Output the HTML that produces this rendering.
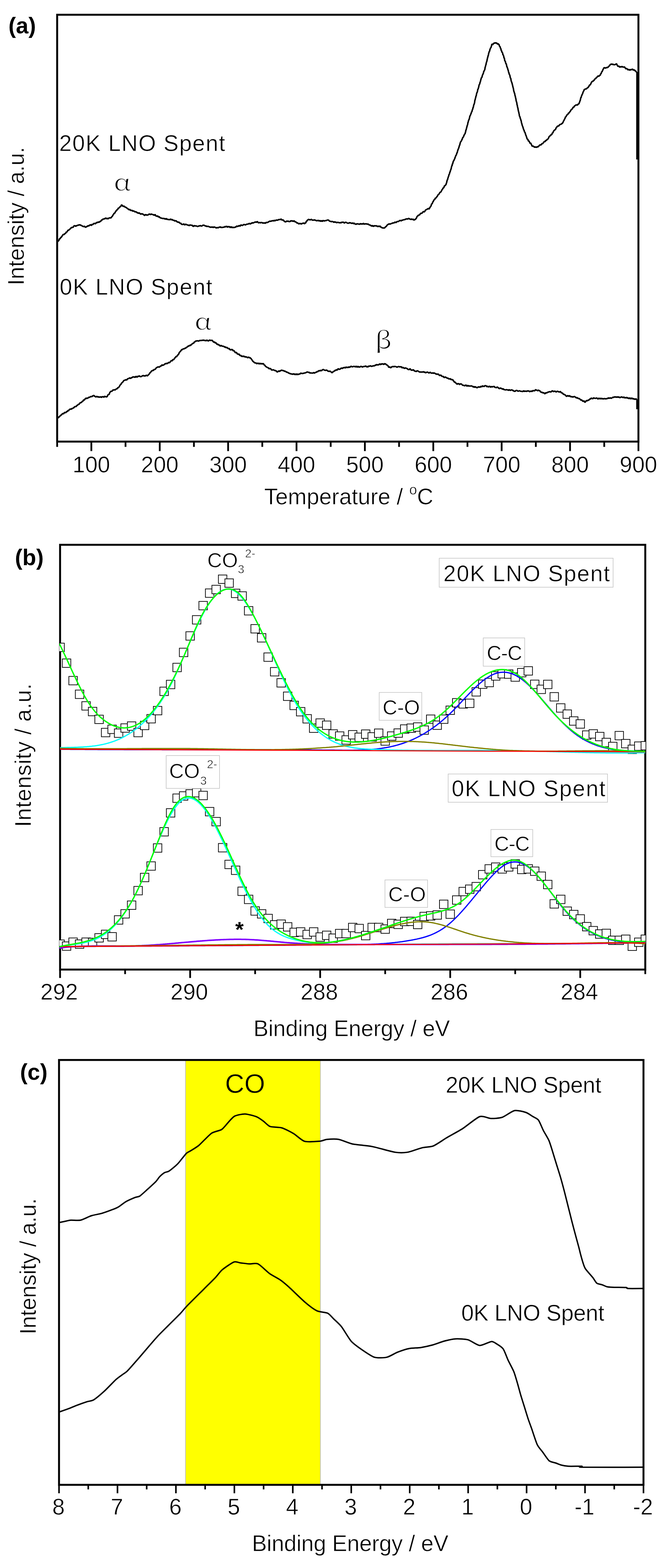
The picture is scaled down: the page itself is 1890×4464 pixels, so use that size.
<!DOCTYPE html>
<html><head><meta charset="utf-8"><title>Figure</title>
<style>html,body{margin:0;padding:0;background:#fff;}svg{display:block;}text{stroke:#fff;stroke-width:0.9px;}text[font-weight=bold]{stroke:none;}</style>
</head><body>
<svg width="1890" height="4464" viewBox="0 0 1890 4464" font-family="'Liberation Sans', Arial, sans-serif" fill="#000">
<rect width="1890" height="4464" fill="#fff"/>
<rect x="162.7" y="42" width="1654.5" height="1215.2" fill="none" stroke="#000" stroke-width="5.5"/>
<path d="M162.7 1257.2 V1272.2 M260 1257.2 V1284.2 M357.3 1257.2 V1272.2 M454.7 1257.2 V1284.2 M552 1257.2 V1272.2 M649.3 1257.2 V1284.2 M746.6 1257.2 V1272.2 M844 1257.2 V1284.2 M941.3 1257.2 V1272.2 M1038.6 1257.2 V1284.2 M1135.9 1257.2 V1272.2 M1233.3 1257.2 V1284.2 M1330.6 1257.2 V1272.2 M1427.9 1257.2 V1284.2 M1525.2 1257.2 V1272.2 M1622.6 1257.2 V1284.2 M1719.9 1257.2 V1272.2 M1817.2 1257.2 V1284.2" stroke="#000" stroke-width="5" fill="none"/>
<text x="260" y="1345" font-size="64" text-anchor="middle">100</text>
<text x="454.7" y="1345" font-size="64" text-anchor="middle">200</text>
<text x="649.3" y="1345" font-size="64" text-anchor="middle">300</text>
<text x="844" y="1345" font-size="64" text-anchor="middle">400</text>
<text x="1038.6" y="1345" font-size="64" text-anchor="middle">500</text>
<text x="1233.3" y="1345" font-size="64" text-anchor="middle">600</text>
<text x="1427.9" y="1345" font-size="64" text-anchor="middle">700</text>
<text x="1622.6" y="1345" font-size="64" text-anchor="middle">800</text>
<text x="1817.2" y="1345" font-size="64" text-anchor="middle">900</text>
<g fill="none" stroke="#000" stroke-width="4.2" stroke-linejoin="bevel">
<path d="M162.7 687.1 L164.6 688.1 L165.7 686.1 L166.7 685.4 L167.8 684.1 L168.8 680.8 L169.9 679.2 L170.9 680.6 L172 677.2 L173 675.7 L174.1 676.9 L175.1 673.7 L176.2 673.6 L177.2 670.9 L178.3 670.1 L179.8 667.3 L181.4 667.8 L182.9 667.4 L184.4 665.1 L186 664.7 L187.5 663.3 L188.7 660 L190 661.1 L191.2 659.3 L192.5 657 L193.7 654.9 L195 656.5 L196.2 653.9 L197.5 653.5 L198.7 652.8 L200 651 L201.2 650.4 L202.7 647.9 L204.3 648.5 L205.8 646.5 L207.3 647.4 L208.9 646.5 L210.4 643 L212.1 642.7 L213.7 642.6 L215.4 644.7 L217.1 642.5 L218.7 642.7 L220.4 641.2 L222 641.5 L223.7 640.7 L225.4 640.1 L227 640.5 L228.7 640.1 L230.4 641.9 L232.1 641.9 L233.9 643.5 L235.6 644 L237.3 645.2 L239.1 644.8 L240.8 643.8 L242.5 646.9 L244.2 646.7 L245.8 646 L247.5 644.3 L249.2 644.3 L250.8 642 L252.5 643.6 L254.1 642.2 L255.8 640.7 L257.5 639.4 L259.1 641.5 L260.8 641.5 L262.5 637.8 L264.1 639.6 L265.8 637.6 L267.5 636.1 L269.2 636 L270.8 637 L272.5 636.7 L274.2 633.2 L275.9 634.5 L277.5 632 L279.2 633.6 L280.7 631.5 L282.2 632.5 L283.8 632 L285.3 629.6 L286.8 630.4 L288.4 627.2 L289.9 625.6 L291.4 626.5 L292.9 623.7 L294.4 623.5 L296 623.3 L297.5 623.2 L299.3 621.4 L301.2 620.7 L303 623.2 L304.8 621 L306.6 623 L308.5 622.5 L310.3 620.4 L312.1 620.4 L314 620.3 L315.8 620.5 L316.8 619 L317.8 617.5 L318.9 616.3 L319.9 616 L320.9 613.2 L321.9 611.6 L323 611.2 L324 608.2 L325 607 L326.1 608 L327.3 605 L328.4 603.8 L329.6 600.6 L330.7 600.6 L331.8 599.8 L333 596.5 L334.1 597.1 L335.3 595.8 L336.4 592.5 L337.7 593.1 L339 591.3 L340.3 590.7 L341.7 588.2 L343 588.1 L344.3 586.9 L345.6 583.2 L347.3 583.9 L349.1 586.5 L350.8 588 L352.5 586.2 L354 587.9 L355.5 589.4 L357.1 589.5 L358.6 590.6 L360.1 591.5 L361.6 592.7 L363.2 594.5 L364.7 594.5 L366.2 595.8 L367.9 597.8 L369.5 595.8 L371.2 598.3 L372.9 599.5 L374.6 598.7 L376.2 599 L377.9 601.6 L379.6 600.3 L381.3 600.8 L382.9 602.3 L384.6 603.8 L386.2 602.3 L387.8 603.6 L389.4 604.2 L391 606.4 L392.7 605.6 L394.3 607.6 L395.9 605.8 L397.5 606.9 L399.1 608.5 L400.7 609.8 L402.3 608.9 L403.9 608.7 L405.6 608.8 L407.2 610.8 L408.8 610.2 L410.4 612.8 L412 613.5 L413.8 611 L415.7 611.1 L417.5 612.7 L419.4 611.9 L421.2 612.2 L423 610.4 L424.9 609.4 L426.7 609.8 L428.6 611.2 L430.4 609.2 L432.1 609.9 L433.7 610.6 L435.4 611 L437.1 611.4 L438.7 613.5 L440.4 611.3 L442 611.2 L443.7 614.9 L445.4 615.1 L447 615.8 L448.7 614.4 L450.2 617 L451.8 617.9 L453.3 616.4 L454.8 619.1 L456.4 620.3 L457.9 620.6 L459.4 621 L461 621.2 L462.5 622.3 L464.3 622 L466.2 621.5 L468 623.4 L469.8 622.4 L471.6 624.3 L473.5 621.8 L475.3 624.8 L477.1 624.2 L479 625.1 L480.8 625 L482.5 625.5 L484.1 624.8 L485.8 623.3 L487.4 626.2 L489.1 624.7 L490.7 625.5 L492.4 627.2 L494 627.1 L495.7 627.2 L497.3 629.4 L499 628.7 L500.5 628.5 L502.1 629 L503.6 631.8 L505.2 631.3 L506.7 633.1 L508.2 632.4 L509.8 632.6 L511.3 634.6 L512.9 636.3 L514.4 634.8 L516 637.7 L517.5 638.9 L519.3 638.9 L521 639.3 L522.8 636.9 L524.5 639.3 L526.3 640.5 L528.1 638 L529.8 639.1 L531.6 639.5 L533.4 640.7 L535.1 640.7 L536.9 641.2 L538.6 642.6 L540.4 640.3 L542.2 640.7 L543.9 641.1 L545.7 641.3 L547.4 641.3 L549.2 644.5 L551 644.3 L552.7 641.9 L554.5 643.5 L556.3 643 L558 643.2 L559.8 643.5 L561.5 644.7 L563.3 644.7 L565.1 643.7 L567 642.9 L568.8 643.1 L570.6 642.2 L572.5 643.4 L574.3 643.7 L576.1 642.3 L577.9 641.1 L579.8 641.1 L581.6 641.6 L583.3 642.8 L584.9 643.8 L586.6 642.9 L588.3 644.7 L590 644.6 L591.6 644.3 L593.3 644.6 L595 645.4 L596.7 646.5 L598.3 646 L600 647.4 L601.8 646.7 L603.7 646 L605.5 647.1 L607.3 647.7 L609.1 645.7 L611 647 L612.8 647.1 L614.6 648.7 L616.5 649 L618.3 647.2 L620.1 648.8 L621.8 648.3 L623.6 646.4 L625.3 646.9 L627.1 645.6 L628.9 647.8 L630.6 647.1 L632.4 647.7 L634.2 647.3 L635.9 646.7 L637.7 646.8 L639.4 646.1 L641.2 644.4 L642.9 646.2 L644.7 644.3 L646.4 645 L648.1 647.3 L649.9 644.9 L651.6 645.3 L653.3 645.4 L655.1 648.3 L656.8 646 L658.5 645.7 L660.3 648.6 L662 646.3 L663.7 648.3 L665.4 647.3 L667.1 647.5 L668.8 647.4 L670.5 645.8 L672.2 646.1 L673.8 643.1 L675.5 645.1 L677.2 643.8 L678.9 644.1 L680.6 641.6 L682.3 643.4 L684 643.6 L685.7 640.3 L687.4 640.9 L689.1 641.4 L690.8 642 L692.5 639.8 L694.2 639.3 L695.8 639.2 L697.5 640.2 L699.2 640.3 L700.9 638.8 L702.6 638.4 L704.3 638.2 L706 637.8 L707.7 637.5 L709.4 635.9 L711.1 636.8 L712.8 637.9 L714.5 635.5 L716.2 636.1 L717.8 633.6 L719.5 634.9 L721.2 634.6 L722.9 633.8 L724.6 632.8 L726.3 632.2 L728 632.2 L729.7 633.3 L731.4 631.1 L733.1 631.2 L734.8 633.7 L736.5 634.6 L738.2 633.5 L739.8 633.6 L741.5 634.8 L743.2 633.3 L744.9 633.8 L746.6 633.9 L748.3 635.5 L750 634.9 L751.7 634.2 L753.4 635.3 L755.1 635.8 L756.8 633.1 L758.5 634.1 L760.2 632.7 L761.8 633.7 L763.5 632.4 L765.2 630.9 L766.9 630.3 L768.6 629.2 L770.3 630.4 L772 629.6 L773.8 628.5 L775.5 628.7 L777.2 628.2 L779 629.3 L780.8 626.8 L782.5 629.2 L784.2 627.1 L786 627.1 L787.8 626.2 L789.5 627.1 L791.2 626.6 L793 625.3 L794.8 624.7 L796.5 625.1 L798.2 625.1 L800 623.2 L801.5 625.2 L802.9 626.9 L804.4 626.2 L805.9 626.3 L807.4 627.2 L808.8 629.8 L810.3 630.6 L812 631.7 L813.8 631.5 L815.5 629.6 L817.3 629.6 L819 630 L820.7 629.4 L822.4 630.8 L824.1 630.9 L825.9 630.7 L827.6 628.1 L829.3 629.8 L831 628.3 L832.7 629.1 L834.5 630.5 L836.2 628.7 L837.9 629 L839.6 631.9 L841.1 631 L842.5 632.2 L844 633.9 L845.5 635.2 L847 633.8 L848.4 635.9 L849.9 637.2 L851.9 637.1 L853.8 635.9 L855.8 637 L857.7 638 L859.6 635.9 L861.6 636.2 L863.5 634.9 L865.5 635.7 L867.4 637.3 L868.5 633.9 L869.6 635.1 L870.7 633.7 L871.8 629.5 L872.9 630.9 L874 627.5 L875.1 627.4 L876.2 625.9 L878.2 624.3 L880.1 625.6 L882.1 625.5 L884.1 626 L886 624.2 L888 625.9 L889.8 627.1 L891.6 626.6 L893.5 626.6 L895.3 625.7 L897 627.2 L898.7 626.9 L900.4 628.3 L902.1 628.3 L903.8 628.1 L905.5 627 L907.1 628.7 L908.8 628.9 L910.5 627.5 L912.2 630.1 L913.9 629.5 L915.6 627.8 L917.3 630.8 L919.1 627.8 L921 628.2 L922.8 629.2 L924.6 628.5 L926.5 628 L928.3 628.1 L930.2 627.1 L932 626.4 L933.8 626.5 L935.6 626.7 L937.5 629.4 L939.3 630.1 L941.1 630 L943 631.2 L944.8 630.5 L946.6 630.7 L948.5 631.4 L950.4 633.4 L952.3 630.9 L954.3 632.8 L956.2 632.2 L958.1 634.3 L960 633.2 L961.8 633.1 L963.5 633.4 L965.3 633.9 L967.1 634.7 L968.8 633.3 L970.6 635 L972.4 632.5 L974.1 633 L975.9 632.5 L977.7 632.5 L979.4 634.8 L981.2 634.6 L983 632.8 L984.7 632.8 L986.5 633.6 L988.2 634.9 L989.9 635.4 L991.7 635.4 L993.4 635 L995.1 633.7 L996.8 634.8 L998.5 634.3 L1000.2 635.6 L1002 636 L1003.7 634.9 L1005.4 635.3 L1007.1 637.3 L1008.8 635 L1010.6 637.8 L1012.3 638.3 L1014 638.7 L1015.7 636.8 L1017.4 637.4 L1019.2 637.5 L1020.9 637.7 L1022.6 638.8 L1024.3 637.8 L1026 636.5 L1027.8 638.4 L1029.5 637.1 L1031.2 637.5 L1032.9 638 L1034.6 635.5 L1036.3 638.1 L1038.1 637.8 L1039.8 637.2 L1041.5 637.3 L1043.2 637.6 L1044.9 637.2 L1046.6 638.8 L1048.3 637.7 L1050 639.7 L1051.7 640.7 L1053.3 640.6 L1055 641.5 L1056.7 643.3 L1058.4 643.6 L1060.1 641.5 L1061.8 644.3 L1063.5 644.2 L1065.3 642.3 L1067.2 643.3 L1069 642.9 L1070.8 642.4 L1072.7 643.9 L1074.5 645.3 L1076.3 643.2 L1078.2 645.1 L1080 644.5 L1081.7 643.3 L1083.4 646.6 L1085.1 646.5 L1086.9 648.4 L1088.6 648.5 L1090.3 649.3 L1092 648.8 L1093.4 649.3 L1094.8 648.8 L1096.2 647.5 L1097.6 645.1 L1099 645.2 L1100.5 643.2 L1101.9 641 L1103.3 639.7 L1104.7 638.9 L1106.1 638.3 L1107.5 637.1 L1109.2 637.8 L1110.9 637.9 L1112.7 636.9 L1114.4 636 L1116.1 636.2 L1117.8 634.5 L1119.5 634.5 L1121.2 635 L1123 633.3 L1124.7 632 L1126.4 634 L1128.1 632.8 L1129.8 631.1 L1131.6 630.6 L1133.3 630.6 L1135 630.3 L1136.7 628.6 L1138.4 627.5 L1140.2 627.8 L1141.9 629.3 L1143.6 626.7 L1145.3 627.4 L1147 626.1 L1148.8 625.7 L1150.5 625.2 L1152.2 625.5 L1153.9 624.3 L1155.6 623.4 L1157.3 623.3 L1159.1 623.1 L1160.8 623.8 L1162.5 621.9 L1164.3 622 L1166 623.7 L1167.8 623.8 L1169.5 625.1 L1171.3 623.1 L1173 624.6 L1174.8 624.8 L1176.5 623.8 L1178.3 627.3 L1180 625 L1181.8 624.8 L1182.8 624.5 L1183.8 621.9 L1184.9 621.9 L1185.9 619.3 L1186.9 617 L1188 615.2 L1189 615.9 L1190 612.7 L1191.5 613.5 L1193 611.4 L1194.5 612 L1196 608.8 L1197.5 607.6 L1199 606.7 L1200.5 607.6 L1202 605.9 L1203.5 604 L1205 602.1 L1206.5 603.1 L1208 603.2 L1209.6 601 L1211.2 598.1 L1212.7 597.2 L1214.2 596.5 L1215.8 595.9 L1217.3 594.5 L1218.9 593.6 L1220.5 594.7 L1222 594.7 L1222.9 590.8 L1223.7 591.9 L1224.6 588.7 L1225.5 588.3 L1226.3 587.2 L1227.2 585.7 L1228.1 581.1 L1228.9 580.5 L1229.8 580.1 L1230.6 579.7 L1231.5 575.3 L1232.4 574.5 L1233.2 574.8 L1234.1 570.8 L1235 570.2 L1235.8 568.5 L1236.7 568.2 L1237.8 567.7 L1239 563.7 L1240.1 564.3 L1241.3 562.9 L1242.4 561.9 L1243.6 559.5 L1244.7 559.4 L1245.8 556.1 L1247 554.9 L1248.1 552.9 L1249.3 553.4 L1250.4 551 L1251.6 548.9 L1252.7 547.2 L1253.9 547.7 L1255 546 L1256 544.8 L1257 542.3 L1257.9 541.2 L1258.9 538.6 L1259.9 539 L1260.9 535.2 L1261.9 535.2 L1262.8 534.7 L1263.8 533 L1264.8 529.6 L1265.8 528.6 L1266.8 529.2 L1267.7 527 L1268.7 526.4 L1269.7 524.9 L1270.2 521.8 L1270.8 521.6 L1271.4 519.4 L1271.9 516.4 L1272.5 514.9 L1273 512.2 L1273.5 511.7 L1274.1 511.9 L1274.7 507.4 L1275.2 507.3 L1275.8 504.1 L1276.3 502.4 L1276.9 502.7 L1277.4 499.6 L1278 497.3 L1278.5 496 L1279 496 L1279.6 494.2 L1280.2 490.6 L1280.7 489.7 L1281.2 490.6 L1281.7 486.4 L1282.2 485.9 L1282.7 483.8 L1283.2 483.4 L1283.7 481.2 L1284.2 480.2 L1284.7 477.7 L1285.2 474.9 L1285.8 473.2 L1286.3 471.3 L1286.8 472.2 L1287.3 468.1 L1287.8 466.2 L1288.3 467.8 L1288.8 463.5 L1289.3 464.3 L1289.8 459.9 L1290.5 459.6 L1291.2 457.1 L1291.9 457.6 L1292.5 455.3 L1293.2 453.8 L1293.9 452.6 L1294.6 451.3 L1295.3 447.9 L1296 447.2 L1296.7 445.1 L1297.4 442.3 L1298 443.2 L1298.7 440.7 L1299.4 439.9 L1300.1 436.2 L1300.8 435.7 L1301.3 433.8 L1301.9 433.1 L1302.5 429.2 L1303 428.5 L1303.5 427.3 L1304.1 424.2 L1304.6 424.2 L1305.2 423.2 L1305.8 420.5 L1306.3 419.6 L1306.8 417.8 L1307.4 414.8 L1308 413.6 L1308.5 414.2 L1309 410.3 L1309.6 409 L1310.1 406.1 L1310.7 404.9 L1311.2 403.1 L1311.8 404.1 L1312.6 401.8 L1313.4 400.7 L1314.2 399.5 L1315 396.6 L1315.8 396.1 L1316.6 393.1 L1317.4 391.1 L1318.2 391.3 L1319.1 389.6 L1319.9 388.1 L1320.7 384.9 L1321.5 384.3 L1322.3 381.5 L1323.1 381.9 L1323.9 380 L1324.7 376.3 L1325.2 376.8 L1325.6 372.6 L1326.1 370.6 L1326.5 371 L1327 367.9 L1327.5 367 L1327.9 365.7 L1328.4 362 L1328.8 362.7 L1329.3 359.4 L1329.7 358.3 L1330.2 356.3 L1330.7 355.9 L1331.1 354.3 L1331.6 351 L1332 348.7 L1332.5 347.7 L1333 346.4 L1333.4 343.6 L1333.9 342.2 L1334.3 342.5 L1334.8 340.6 L1335.2 339.9 L1335.7 338.2 L1336.3 336.3 L1336.9 332.9 L1337.5 330.6 L1338.1 329.4 L1338.8 328.3 L1339.4 326.9 L1340 325.3 L1340.6 323.1 L1341.2 323.1 L1341.8 319.6 L1342.4 318.6 L1343 318.4 L1343.6 316.5 L1344.3 313.1 L1344.9 311.3 L1345.5 311.6 L1346.1 307.3 L1346.7 306 L1347.1 305.7 L1347.5 304 L1348 301.1 L1348.4 299 L1348.8 297.8 L1349.2 298.1 L1349.7 295.3 L1350.1 295.4 L1350.5 293 L1350.9 292 L1351.4 287.1 L1351.8 285.9 L1352.2 283.6 L1352.6 283.4 L1353 281.4 L1353.5 278.7 L1353.9 278.7 L1354.3 275.5 L1354.7 274.5 L1355.2 272.6 L1355.6 272.8 L1356 269.8 L1356.4 267.6 L1356.9 265.1 L1357.3 264.8 L1357.7 263.7 L1358.2 262.2 L1358.7 261.4 L1359.2 259.4 L1359.7 255.8 L1360.2 253.7 L1360.7 254.2 L1361.2 252.6 L1361.7 250 L1362.2 249.5 L1362.7 246.8 L1363.2 244.3 L1363.7 242.2 L1364.2 240 L1364.7 240.5 L1365.2 239.7 L1365.7 238.1 L1366.2 234.9 L1366.7 233.9 L1367.2 233.1 L1367.7 231.1 L1368.2 228.7 L1368.7 226.4 L1369.3 225.1 L1369.9 222.3 L1370.5 220.7 L1371.1 220.8 L1371.8 220.2 L1372.4 217.1 L1373 215 L1373.6 213.1 L1374.2 211.8 L1374.8 211.4 L1375.4 208.6 L1376 208.7 L1376.6 204.3 L1377.3 203.2 L1377.9 202.3 L1378.5 200.3 L1379.1 200.1 L1379.7 198.4 L1380.1 197.1 L1380.5 194.3 L1381 190.6 L1381.4 190.8 L1381.8 189 L1382.2 187.1 L1382.7 184.7 L1383.1 184.5 L1383.5 183.5 L1383.9 179 L1384.4 179.3 L1384.8 176.6 L1385.2 175.4 L1385.6 175 L1386 173.5 L1386.5 170.7 L1386.9 167.5 L1387.3 168.3 L1387.7 164.1 L1388.2 163.1 L1388.6 162.9 L1389 159.4 L1389.4 157.6 L1389.9 158.2 L1390.3 156.5 L1390.7 152.7 L1391.3 151.2 L1391.9 149.1 L1392.5 146.9 L1393.1 145.6 L1393.7 146.4 L1394.3 141.6 L1394.9 140.4 L1395.6 138.6 L1396.2 136.5 L1396.8 136.3 L1397.4 135.4 L1398 134 L1398.6 131.6 L1399.2 130.5 L1399.8 126 L1401.3 126 L1402.9 127.4 L1404.4 123.5 L1405.9 123.2 L1407.5 123.1 L1409 121.4 L1410.8 123 L1412.7 121.9 L1414.5 123.1 L1416.3 126.2 L1418.2 124 L1420 127.2 L1420.6 126.3 L1421.3 130.7 L1421.9 131.2 L1422.6 132.8 L1423.2 132.7 L1423.9 134 L1424.5 138 L1425.2 137.6 L1425.8 139.3 L1426.5 143.1 L1427.1 144.9 L1427.8 143.7 L1428.4 148.4 L1429.1 148.6 L1429.7 149.7 L1430.4 150.3 L1431 152.9 L1431.5 156.6 L1432.1 155.8 L1432.6 156.9 L1433.2 158.6 L1433.7 160.2 L1434.2 162.6 L1434.8 166.1 L1435.3 164.9 L1435.9 166.9 L1436.4 171.1 L1436.9 172.9 L1437.5 174.5 L1438 173.6 L1438.6 175.6 L1439.1 179.3 L1439.7 179.3 L1440.2 181.7 L1440.7 182 L1441.3 182.6 L1441.8 185.4 L1442.4 188.4 L1442.9 190.1 L1443.4 191 L1444 192.3 L1444.5 194.2 L1445.1 195.5 L1445.6 197.4 L1446.1 200.1 L1446.6 199.6 L1447.1 202.6 L1447.6 205.4 L1448.1 206.8 L1448.6 206.2 L1449.1 210.6 L1449.6 211.8 L1450.1 211.2 L1450.6 213.2 L1451.1 214.6 L1451.6 215.8 L1452.1 220.6 L1452.6 220.3 L1453.1 223.6 L1453.6 222.7 L1454.1 224 L1454.6 228.6 L1455.1 230 L1455.6 232.3 L1456.1 233 L1456.6 234.1 L1457 236.6 L1457.4 236 L1457.9 239.2 L1458.3 240.6 L1458.7 241.3 L1459.1 244.5 L1459.6 245.2 L1460 247.6 L1460.4 248.8 L1460.8 250.3 L1461.3 252.1 L1461.7 254.7 L1462.1 257.6 L1462.5 259.2 L1462.9 260.6 L1463.4 262.2 L1463.8 262 L1464.2 266.1 L1464.6 265.4 L1465.1 266.6 L1465.5 269.5 L1465.9 272 L1466.3 272.4 L1466.8 275.1 L1467.2 275.6 L1467.6 279.6 L1468 279.5 L1468.3 281.3 L1468.7 283.2 L1469.1 286.1 L1469.4 288.2 L1469.8 288.4 L1470.2 289.8 L1470.5 292.1 L1470.9 291.9 L1471.3 294.8 L1471.6 298 L1472 299.5 L1472.4 298.7 L1472.7 303.1 L1473.1 303.3 L1473.5 307 L1473.8 306.6 L1474.2 307.8 L1474.6 310.7 L1474.9 313.5 L1475.3 313.7 L1475.7 316.9 L1476 318 L1476.4 318.6 L1476.8 320.1 L1477.1 322.5 L1477.5 323.8 L1477.9 325.4 L1478.2 328.1 L1478.6 330.6 L1479.1 331.3 L1479.6 331.4 L1480.1 333.4 L1480.6 335.5 L1481.1 338 L1481.6 338.1 L1482.1 339.6 L1482.6 342 L1483.1 343.6 L1483.6 344.4 L1484.1 347.8 L1484.6 350.8 L1485.1 351.1 L1485.6 353.5 L1486.1 355.4 L1486.6 357.1 L1487.1 359.1 L1487.6 359.1 L1488.1 361.6 L1488.6 361.4 L1489.1 365.6 L1489.6 365.6 L1490.2 367.5 L1490.8 370.6 L1491.4 370.2 L1492 371.5 L1492.7 375.2 L1493.3 376.1 L1493.9 376 L1494.5 377.4 L1495.1 380.1 L1495.7 380.6 L1496.3 385 L1496.9 384.5 L1497.5 386.4 L1498.2 388.4 L1498.8 390.5 L1499.4 391.8 L1500 394.1 L1500.6 395.8 L1501.6 396.5 L1502.7 396.8 L1503.8 401.3 L1504.8 401.7 L1505.8 401.1 L1506.9 403.8 L1507.9 406.3 L1509 408.5 L1510 406.8 L1511.1 408.1 L1512.1 411.1 L1513.2 412.3 L1514.2 415.4 L1515.3 416.6 L1516.9 415.6 L1518.4 416.6 L1520 417.8 L1521.6 419.5 L1523.2 417.8 L1524.7 419.2 L1526.3 418.8 L1527.9 419.7 L1529.4 416.7 L1531 418.9 L1532.6 416.5 L1534.2 415.7 L1535.7 413.1 L1537.3 412.7 L1538.7 412.4 L1540.1 412.6 L1541.5 410.4 L1542.9 408.4 L1544.3 409.6 L1545.7 407.4 L1547.2 405.8 L1548.6 403.6 L1550 402.8 L1551.4 403.7 L1552.8 400 L1554.2 400.2 L1555.6 399.4 L1556.7 397.2 L1557.9 397.3 L1559 396.4 L1560.1 394.9 L1561.3 393.2 L1562.4 390.1 L1563.5 388.2 L1564.6 388.2 L1565.8 386.5 L1566.9 384.7 L1568 385.7 L1569.2 382.2 L1570.3 382.9 L1571.3 381.9 L1572.4 377.8 L1573.4 379.1 L1574.4 376 L1575.4 374 L1576.5 372.5 L1577.5 370.7 L1578.5 370.9 L1579.5 369.1 L1580.6 369.3 L1581.6 367.9 L1582.6 363.9 L1583.6 363.7 L1584.7 362.3 L1585.7 360.2 L1587.2 359.4 L1588.8 358.4 L1590.3 358.9 L1591.8 356.6 L1593.3 354.8 L1594.9 354.2 L1596.4 353.9 L1597.9 353.3 L1599.5 351.2 L1601 351.7 L1601.8 348.5 L1602.6 348.4 L1603.4 346.6 L1604.2 343.6 L1605 344 L1605.8 341.2 L1606.5 340.1 L1607.3 338.7 L1608.1 337.2 L1608.9 335 L1609.7 332.1 L1610.5 333.1 L1611.3 331.7 L1612.5 329.1 L1613.6 328 L1614.8 325.5 L1616 326.2 L1617.2 324.1 L1618.3 321.1 L1619.5 321.7 L1620.7 320.9 L1621.9 317.3 L1623 318.1 L1624.2 314.9 L1625.4 312.5 L1626.5 313 L1627.7 310.3 L1628.9 310.2 L1630 308.3 L1631.2 305.3 L1632.3 305.4 L1633.5 305.1 L1634.7 302.4 L1635.8 301.2 L1637 300.9 L1638.7 299.1 L1640.4 298.8 L1642.2 298.7 L1643.9 299.1 L1645.6 296.5 L1647.3 295.7 L1647.8 296.3 L1648.4 294 L1649 291.5 L1649.5 291.8 L1650 290.2 L1650.6 287.3 L1651.2 287.2 L1651.7 285 L1652.2 283.1 L1652.8 279.9 L1653.3 277.3 L1653.9 277.9 L1654.5 276.4 L1655 273.5 L1655.7 272.3 L1656.4 271 L1657.1 268.2 L1657.8 268.1 L1658.5 266 L1659.2 263.8 L1659.9 261.2 L1660.6 261.1 L1661.3 258.7 L1662 258.4 L1662.7 254.9 L1664.4 254.8 L1666.1 253.3 L1667.8 253.2 L1669.6 252.9 L1671.3 250.5 L1673 249.5 L1674 249.4 L1675 246.9 L1676.1 246.4 L1677.1 243.7 L1678.1 241.9 L1679.1 241.8 L1680.1 241.6 L1681.2 239.9 L1682.2 237.1 L1683.2 235.2 L1684.5 232.7 L1685.8 232.2 L1687 231 L1688.3 231.9 L1689.6 227.8 L1690.9 229.3 L1692.2 226.4 L1693.5 225 L1694.8 223.1 L1696 224.2 L1697.3 220.3 L1698.6 220.3 L1700.1 219 L1701.5 216.9 L1703 215.9 L1704.5 217.4 L1706 215.6 L1707.4 214.3 L1708.9 213.8 L1709.8 209.4 L1710.6 209.9 L1711.5 208.5 L1712.3 205.1 L1713.2 204.3 L1714 204.4 L1714.8 200.6 L1715.7 200.5 L1716.5 196.9 L1717.4 197 L1718.2 194 L1719.1 193.2 L1720.8 192.5 L1722.5 194 L1724.2 193.4 L1726 192.3 L1727.7 192.8 L1729.4 191.7 L1730.7 191.8 L1732 188.8 L1733.3 188.7 L1734.6 187.7 L1735.8 185.9 L1737.1 183.6 L1738.4 182.9 L1739.7 183.4 L1741.6 181.9 L1743.5 183.8 L1745.4 182.9 L1747.3 184.4 L1749.3 184.1 L1751.2 183.7 L1753.1 182.5 L1755 181.3 L1756.3 184.7 L1757.6 186.9 L1758.9 189.1 L1760.2 188.3 L1761.9 188.3 L1763.6 191.2 L1765.3 190.5 L1767 189.8 L1768.8 190.8 L1770.5 189 L1772.2 190.5 L1773.9 191 L1775.6 191 L1777.1 190.5 L1778.5 191.6 L1780 194.3 L1781.5 196.3 L1783 194.9 L1784.4 195.5 L1785.9 196.9 L1787.6 199.3 L1789.3 197.9 L1791 198.1 L1792.7 200 L1794.5 198.7 L1796.2 197.5 L1797.9 199 L1799.6 196.6 L1801.3 197.6 L1803 199.9 L1804.6 199 L1806.3 199.5 L1808 202 L1809.7 202.3 L1811.3 205.4 L1813 204.7"/>
<path d="M162.7 1190.4 L164.6 1189.2 L166 1189.8 L167.3 1186.6 L168.7 1187.1 L170.1 1185.3 L171.4 1183.1 L172.8 1183.5 L174.2 1180.8 L175.6 1181 L176.9 1178.6 L178.3 1177.5 L179.8 1177.7 L181.4 1178.1 L182.9 1174.8 L184.4 1174.2 L186 1174.6 L187.5 1174.7 L189 1172.5 L190.6 1170.9 L192.1 1172 L193.6 1167.9 L195.2 1169.7 L196.7 1166.8 L198.2 1165.5 L199.8 1164.7 L201.3 1164.5 L202.8 1165.5 L204.3 1162.6 L205.8 1163.2 L207.4 1162.6 L208.9 1160.9 L210.4 1160.8 L211.9 1158.3 L213.5 1157.6 L215 1157.3 L216.4 1157.8 L217.7 1155.8 L219.1 1154.2 L220.5 1154 L221.8 1152.4 L223.2 1150.8 L224.6 1151.3 L226 1149.9 L227.3 1147.2 L228.7 1147.2 L230.2 1145.9 L231.6 1145.9 L233.1 1144.3 L234.6 1141.7 L236 1142.9 L237.5 1138.8 L238.9 1138.7 L240.4 1138.8 L241.9 1135.6 L243.3 1135.6 L244.8 1132.9 L246.4 1134.4 L248 1134.1 L249.6 1132.8 L251.1 1133.2 L252.7 1130.7 L254.3 1131.3 L255.9 1130.4 L257.5 1129.7 L259.1 1128.6 L260.6 1129.3 L262.2 1129 L263.8 1126.8 L265.4 1126.8 L267.1 1125.2 L268.7 1127.9 L270.4 1128.2 L272.1 1129.9 L273.7 1129.8 L275.4 1128.5 L277 1129.3 L278.7 1130.8 L280.4 1129.1 L282 1131.1 L283.7 1130.6 L285.4 1130.1 L287.1 1129.7 L288.9 1131.8 L290.6 1129.4 L292.3 1129.5 L294 1129.7 L295.8 1131.1 L297.5 1128.1 L299.2 1129.1 L300.9 1129.2 L302.7 1130.1 L304.4 1129.6 L305.5 1128.4 L306.7 1125 L307.8 1124.1 L309 1122.5 L310.1 1123 L311.2 1121.8 L312.4 1117.7 L313.5 1116.4 L314.7 1115.3 L315.8 1113.9 L317.3 1114 L318.9 1113.6 L320.4 1111.7 L321.9 1110 L323.5 1110.7 L325 1109.8 L326.5 1109.7 L328.1 1110.2 L329.6 1108.5 L331.1 1107.2 L332.7 1106.8 L334.2 1106.2 L335.3 1102.8 L336.5 1104.4 L337.6 1102.7 L338.8 1101.7 L339.9 1100.2 L341.1 1097.5 L342.2 1096.2 L343.4 1094 L344.5 1094.5 L345.6 1091.2 L346.8 1090 L347.9 1089.2 L349.1 1087.7 L350.2 1087 L351.4 1084.8 L352.5 1083.3 L354 1083 L355.6 1082.1 L357.1 1082.2 L358.6 1080.3 L360.1 1082.4 L361.6 1080.8 L363.2 1078.4 L364.7 1078 L366.2 1077.6 L367.8 1076.9 L369.3 1075.3 L370.8 1077 L372.5 1077.2 L374.2 1075.1 L376 1074.9 L377.7 1073.2 L379.4 1073 L381.1 1073.5 L382.8 1073 L384.6 1074.6 L386.3 1072.1 L388 1071.3 L389.7 1074.2 L391.4 1072.4 L393.1 1070.9 L394.9 1071.9 L396.6 1069.9 L398.3 1071.3 L400 1072.6 L401.8 1072.1 L403.5 1071.3 L405.2 1069.7 L406.9 1069.8 L408.6 1069 L410.4 1070.8 L412.1 1069.8 L413.8 1070.5 L415.6 1068.8 L417.3 1068.2 L419 1070.1 L420.3 1069.5 L421.6 1067.9 L422.9 1066.6 L424.1 1065.5 L425.4 1064.1 L426.7 1061.2 L428 1061 L429.3 1059.3 L430.6 1057 L431.9 1055.9 L433.2 1055.6 L434.5 1054.4 L435.7 1054.7 L437 1054.5 L438.3 1051.6 L439.6 1052.1 L441.1 1051.5 L442.7 1050.6 L444.2 1047.9 L445.7 1046.6 L447.2 1045.9 L448.8 1045 L450.3 1044.3 L451.8 1044.9 L453.3 1045.1 L454.9 1044.2 L456.4 1042.2 L457.9 1042 L459.4 1041.7 L461 1038.5 L462.5 1039.7 L464.1 1039.9 L465.8 1038.8 L467.4 1038.1 L469 1036.5 L470.7 1034.8 L472.3 1036.2 L473.9 1034 L475.6 1035 L477.2 1034.9 L478.9 1032.3 L480.5 1031.6 L482.1 1032.8 L483.8 1031.4 L485.4 1028.9 L486.7 1027.6 L488.1 1026.5 L489.4 1027.9 L490.7 1026.4 L492.1 1023 L493.4 1024.2 L494.7 1023.6 L496.1 1021.3 L497.4 1019.1 L498.7 1018.7 L500.1 1016.1 L501.4 1014.5 L502.5 1016.4 L503.5 1014 L504.6 1012.2 L505.7 1012.2 L506.8 1009.1 L507.8 1009.2 L508.9 1007.7 L510 1004.2 L511.1 1003 L512.1 1001.8 L513.2 1000.2 L514.3 1000 L515.4 997.5 L516.4 996.7 L517.5 994.3 L519 996.2 L520.6 993.6 L522.1 993.2 L523.6 992.8 L525.1 993.2 L526.7 990.8 L528.2 991.7 L529.7 989.5 L531.2 988.9 L532.8 988.1 L534.3 985.6 L535.8 986.3 L537.3 984.6 L538.9 983.3 L540.4 985.2 L541.8 982 L543.2 982 L544.6 981.8 L546 980.1 L547.4 978.3 L548.8 977.9 L550.3 977 L551.7 976.7 L553.1 973.3 L554.5 973.8 L555.9 971.7 L557.3 970.7 L558.7 971.3 L560.5 970.2 L562.2 970.3 L564 970.8 L565.7 971.1 L567.5 969.3 L569.3 969.7 L571 969.2 L572.8 969 L574.6 969.5 L576.3 968.5 L578.1 968.6 L579.8 968.2 L581.6 969.6 L583.4 969 L585.1 969.7 L586.9 970.1 L588.6 968 L590.4 969.2 L592.2 970.7 L593.9 970.5 L595.7 968.3 L597.5 968.4 L599.2 969.7 L601 968.6 L602.7 969.3 L604.5 968.9 L606 971.9 L607.6 973.3 L609.1 974.6 L610.6 973.1 L612.2 975.9 L613.7 976.7 L615.2 975.9 L616.8 979.4 L618.3 980.6 L619.8 979 L621.4 982.5 L622.9 981.6 L624.6 982.5 L626.2 984.8 L627.9 984.9 L629.6 983.2 L631.2 984.8 L632.9 985.7 L634.5 985.7 L636.2 985.8 L637.9 986.8 L639.5 988.8 L641.2 987.1 L642.8 989.5 L644.4 989.8 L646 989 L647.6 990.7 L649.2 992.3 L650.8 992.6 L652.4 991.7 L654 995.5 L655.6 995.4 L657.2 996.7 L658.8 994.4 L660.4 995.6 L662 995.4 L663.5 999 L664.9 998.3 L666.4 998.8 L667.9 1000.8 L669.3 1003.5 L670.8 1004.2 L672.3 1003.4 L673.7 1004 L675.2 1007.7 L676.7 1007.5 L678.1 1009 L679.6 1007.9 L681.1 1008.8 L682.5 1012 L684 1012.1 L685.7 1011.4 L687.4 1014.7 L689.2 1014.1 L690.9 1015.1 L692.6 1013 L694.3 1016.1 L696 1013.8 L697.8 1016.9 L699.5 1016 L701.2 1016 L702.9 1017.1 L704.6 1018.8 L706.3 1017 L708.1 1016.9 L709.8 1018.7 L711.5 1018.1 L712.6 1019 L713.8 1020.4 L715 1021.3 L716.1 1023.1 L717.2 1024.8 L718.4 1026 L719.5 1028.9 L720.7 1028.6 L721.8 1030.6 L723 1030.7 L724.1 1032.6 L725.3 1032.8 L727.1 1033.6 L728.8 1032.9 L730.6 1035.4 L732.4 1034.9 L734.1 1033.7 L735.9 1034.8 L737.6 1036.4 L739.4 1033.7 L741.2 1036.2 L742.9 1035 L744.7 1035.2 L746.5 1036.5 L748.2 1035.1 L750 1035.5 L751.2 1037.5 L752.4 1039.8 L753.7 1039 L754.9 1042 L756.1 1042.9 L757.3 1044 L758.6 1044.6 L759.8 1045.7 L761 1046.1 L762.6 1046.9 L764.2 1047.3 L765.9 1050.2 L767.5 1049.1 L769.1 1049.4 L770.7 1049.7 L772.3 1052.8 L773.9 1053.5 L775.6 1053.4 L777.2 1052.7 L778.8 1053.1 L780.4 1053.9 L782 1055 L783.6 1054.6 L785.3 1056.2 L786.9 1056.1 L788.5 1059.1 L790.3 1058.8 L792.2 1057.1 L794 1055.7 L795.8 1057.9 L797.7 1055.4 L799.5 1055.2 L801.3 1053.7 L803.2 1054.7 L805 1054.7 L806.6 1055.6 L808.3 1055.4 L810 1057.3 L811.6 1056.4 L813.2 1058.1 L814.9 1058.3 L816.5 1060.2 L818.2 1059.8 L819.9 1060.6 L821.5 1062.3 L823.2 1062.3 L824.9 1063.7 L826.6 1063.7 L828.3 1064.7 L830 1064.6 L831.7 1065 L833.3 1065.8 L835 1064.3 L836.7 1064.3 L838.4 1066.8 L840.1 1064.2 L841.8 1066.3 L843.5 1066.3 L845.2 1063.9 L846.9 1066.3 L848.7 1066.1 L850.4 1064.9 L852.1 1064.9 L853.8 1064.8 L855.5 1062.2 L857.2 1063.1 L859 1062.7 L860.7 1063.5 L862.4 1063.1 L864.1 1062.8 L865.8 1061.6 L867.6 1062.3 L869.3 1061.3 L871 1061 L872.8 1059.5 L874.7 1059 L876.5 1059.5 L878.3 1060.4 L880.2 1059.7 L882 1062.3 L883.8 1061.5 L885.7 1061.9 L887.5 1062 L889.3 1062.3 L891.2 1061.8 L893 1060.3 L894.6 1062.4 L896.2 1061.7 L897.9 1060.2 L899.5 1059.8 L901.1 1059.6 L902.7 1057 L904.3 1058.7 L905.9 1056.5 L907.6 1055.3 L909.2 1055.3 L910.8 1056.3 L912.4 1053.9 L914 1055.2 L915.6 1055.4 L917.3 1053.2 L918.9 1052.2 L920.5 1051.9 L922.2 1053.2 L923.8 1054 L925.5 1054.1 L927.1 1054.7 L928.8 1053.3 L930.4 1054.1 L932.1 1055 L933.7 1057.3 L935.4 1056.3 L937 1057.8 L938.7 1056.4 L940.3 1057.1 L942 1058.4 L943.6 1060.3 L945.3 1061 L946.8 1060 L948.3 1057.7 L949.9 1057.6 L951.4 1056.5 L952.9 1055.6 L954.4 1053.5 L956 1055.2 L957.5 1051.9 L959 1053.6 L960.7 1053.1 L962.4 1049.5 L964.2 1050.6 L965.9 1051.4 L967.6 1051.5 L969.3 1049.4 L971 1048.3 L972.8 1047.7 L974.5 1049.8 L976.2 1046.9 L977.9 1047.7 L979.6 1045.8 L981.3 1046.7 L983.1 1047.8 L984.8 1044.6 L986.5 1046.5 L988.2 1045.3 L989.9 1046.5 L991.7 1045.8 L993.4 1044.1 L995.1 1046.3 L996.8 1044.8 L998.5 1043.1 L1000.2 1042.9 L1002 1044.5 L1003.7 1044.2 L1005.4 1043.6 L1007.1 1043 L1008.8 1043.6 L1010.6 1043.4 L1012.3 1045.1 L1014 1042.1 L1015.7 1044.7 L1017.5 1045 L1019.2 1042.5 L1020.9 1045.2 L1022.7 1044.5 L1024.4 1045.2 L1026.2 1043.1 L1027.9 1043.4 L1029.6 1043.4 L1031.4 1045.5 L1033.1 1044.1 L1034.8 1043.3 L1036.6 1043.6 L1038.3 1043 L1040.1 1042.3 L1041.8 1042.4 L1043.5 1044.9 L1045.3 1043.1 L1047 1045.3 L1048.7 1042.6 L1050.4 1042.3 L1052.2 1042.8 L1053.9 1041.4 L1055.6 1041.7 L1057.3 1043.3 L1059 1042.7 L1060.8 1042.1 L1062.5 1041.2 L1064.2 1041.8 L1065.9 1041.5 L1067.6 1039.8 L1069.3 1040.1 L1071.1 1037.5 L1072.8 1039.4 L1074.5 1038.1 L1076.2 1038.9 L1077.9 1038.4 L1079.6 1036.9 L1081.3 1035.9 L1083 1038.7 L1084.7 1035.7 L1086.3 1036.7 L1088 1036 L1089.7 1035.7 L1091.4 1037 L1093.1 1037.6 L1094.8 1034.9 L1096.5 1036 L1097.9 1036.1 L1099.2 1038.2 L1100.6 1038.9 L1102 1039.3 L1103.4 1040.5 L1104.8 1041.9 L1106.1 1045.5 L1107.5 1045.4 L1109.2 1044.3 L1110.9 1046.6 L1112.7 1046.8 L1114.4 1044.8 L1116.1 1043.7 L1117.8 1043.8 L1119.5 1043.3 L1121.2 1044.1 L1123 1043.1 L1124.7 1043.5 L1126.4 1043.5 L1128.1 1044.4 L1129.8 1045.4 L1131.6 1044.8 L1133.3 1043.6 L1135 1043.5 L1136.7 1044.3 L1138.3 1044.2 L1140 1044.5 L1141.6 1044 L1143.2 1045.1 L1144.9 1047.9 L1146.5 1045.4 L1148.2 1047.1 L1149.8 1047.9 L1151.5 1049.1 L1153.2 1047.3 L1154.8 1047.9 L1156.5 1048.3 L1158.1 1049.2 L1159.8 1049.8 L1161.4 1051.9 L1163 1052 L1164.7 1052.4 L1166.3 1050 L1168 1050.4 L1169.7 1053.1 L1171.4 1054.2 L1173.1 1053.2 L1174.8 1054 L1176.5 1052.4 L1178.2 1054.2 L1179.8 1056.4 L1181.5 1056.5 L1183.2 1057 L1184.9 1057.8 L1186.6 1055.8 L1188.3 1055.7 L1190 1056.3 L1191.8 1057.8 L1193.5 1058.5 L1195.3 1059.6 L1197.1 1059.1 L1198.8 1059 L1200.6 1059.6 L1202.4 1058.8 L1204.1 1059.3 L1205.9 1057.8 L1207.6 1060.5 L1209.4 1058.9 L1211.2 1061.4 L1212.9 1060.7 L1214.7 1059.7 L1216.5 1059.3 L1218.2 1060 L1220 1061.5 L1221.7 1061.9 L1223.4 1060.1 L1225.2 1060.2 L1226.9 1062 L1228.6 1062.4 L1230.3 1062 L1232.1 1061.6 L1233.8 1063.1 L1235.5 1061.3 L1237.2 1062.6 L1239 1063.3 L1240.7 1065.2 L1242.4 1064.4 L1244 1065.9 L1245.6 1065.2 L1247.2 1065.1 L1248.8 1065.9 L1250.4 1069 L1252 1068.9 L1253.6 1068.2 L1255.1 1068 L1256.7 1070.3 L1258.3 1071.6 L1259.9 1071.5 L1261.5 1071.6 L1263.1 1073.8 L1264.7 1075.3 L1266.4 1073.5 L1268.1 1073.3 L1269.9 1074.9 L1271.6 1075.7 L1273.3 1077.1 L1275 1076 L1276.8 1078.5 L1278.5 1078.8 L1280.2 1078.6 L1281.9 1078.1 L1283.7 1081.2 L1285.4 1079.4 L1287.1 1081.7 L1288.3 1080.9 L1289.6 1082.1 L1290.8 1085.2 L1292.1 1084.9 L1293.3 1088.4 L1294.6 1088.1 L1295.8 1088.2 L1297.1 1089.6 L1298.3 1091.5 L1300 1092.7 L1301.6 1094 L1303.3 1091.6 L1305 1092.8 L1306.7 1092.5 L1308.3 1095.4 L1310 1092.9 L1311.7 1093 L1313.4 1093.3 L1315 1094.8 L1316.7 1096.8 L1318.4 1097.1 L1320.1 1096.9 L1321.8 1098.2 L1323.4 1098.3 L1325.1 1096.6 L1326.8 1096.4 L1328.5 1099.3 L1330.1 1099 L1331.8 1096.9 L1333.5 1099.3 L1335.3 1098.6 L1337 1098.9 L1338.8 1099.1 L1340.5 1098.8 L1342.3 1098.5 L1344 1099.7 L1345.8 1100.2 L1347.5 1102.6 L1349.3 1100 L1351 1103.2 L1352.8 1100.9 L1354.5 1101.7 L1356.3 1103.5 L1358 1103.8 L1359.8 1102.8 L1361.5 1101.1 L1363.2 1102.1 L1364.8 1101.4 L1366.5 1102.9 L1368.2 1100 L1369.9 1100.2 L1371.6 1101.6 L1373.2 1098.3 L1374.9 1099.2 L1376.6 1100.2 L1378.4 1100.2 L1380.1 1097.8 L1381.9 1098 L1383.7 1098.2 L1385.4 1101.3 L1387.2 1099.2 L1388.9 1101 L1390.7 1101.6 L1392.5 1099.9 L1394.2 1099.8 L1396 1102.3 L1397.8 1101.3 L1399.5 1100.2 L1401.3 1101.9 L1403 1100.7 L1404.8 1100.7 L1406.6 1099.9 L1408.3 1102.6 L1410.1 1103.3 L1411.8 1102.8 L1413.5 1104.2 L1415.1 1101.5 L1416.8 1102.7 L1418.5 1103.9 L1420.2 1106 L1421.9 1106.4 L1423.5 1104.9 L1425.2 1104.8 L1426.9 1105.9 L1428.6 1106.5 L1430.3 1108.4 L1431.9 1106.3 L1433.6 1108.8 L1435.3 1109 L1437 1109.7 L1438.7 1110 L1440.3 1109.8 L1442 1109.3 L1443.7 1109.7 L1445.4 1110 L1447.2 1111.6 L1448.9 1109.4 L1450.7 1110 L1452.4 1112 L1454.2 1110.5 L1455.9 1110 L1457.7 1110.1 L1459.4 1112.1 L1461.1 1111.5 L1462.9 1113.9 L1464.6 1113.7 L1466.4 1114.2 L1468.1 1112 L1469.9 1111.5 L1471.6 1111.7 L1473.3 1113.1 L1475 1113.9 L1476.7 1113.1 L1478.4 1112.4 L1480.1 1113.1 L1481.8 1113.8 L1483.5 1114 L1485.2 1114.3 L1486.9 1114.7 L1488.6 1114.1 L1490.3 1112.3 L1492 1114.8 L1493.7 1113 L1495.4 1114 L1497.1 1113.4 L1498.8 1114.7 L1500.5 1112.9 L1502.2 1113.1 L1503.9 1113.1 L1505.6 1112.9 L1507.3 1115.4 L1509 1114.4 L1510.7 1113.6 L1512.4 1113.4 L1514.1 1115 L1515.7 1112.9 L1517.4 1111.5 L1519.1 1113 L1520.8 1112 L1522.5 1112.7 L1524.1 1109.2 L1525.8 1110.1 L1527.5 1110.8 L1529.1 1111.6 L1530.7 1112.6 L1532.3 1110.3 L1533.9 1111.9 L1535.5 1112 L1537.1 1113 L1538.7 1116.4 L1540.3 1115.8 L1541.9 1117.7 L1543.5 1116.5 L1545.1 1118.9 L1546.7 1118.2 L1548.3 1118.3 L1549.9 1120.7 L1551.6 1120.9 L1553.3 1117.6 L1555 1118.8 L1556.8 1118.5 L1558.5 1116.7 L1560.2 1116.8 L1561.9 1115.6 L1563.6 1115.3 L1565.3 1115.1 L1567.1 1115.8 L1568.8 1115.6 L1570.5 1113.6 L1572.2 1112.5 L1573.9 1113.7 L1575.6 1115.1 L1577.4 1113.5 L1579.1 1114.1 L1580.8 1113.8 L1582.5 1116 L1584.3 1115.3 L1586 1113.8 L1587.7 1114 L1589.4 1115.2 L1591.2 1115.8 L1592.9 1116.2 L1594.6 1114.5 L1596.1 1115.7 L1597.7 1118.5 L1599.2 1118.5 L1600.7 1119 L1602.2 1120.1 L1603.8 1123.2 L1605.3 1122 L1606.8 1123.8 L1608.3 1124.1 L1609.9 1125.3 L1611.4 1127.7 L1613.1 1128.5 L1614.9 1126.6 L1616.6 1126.3 L1618.4 1128.4 L1620.1 1126.9 L1621.9 1126.5 L1623.6 1129.8 L1625.3 1128.5 L1627.1 1130.1 L1628.8 1129 L1630.6 1130.9 L1632.3 1129.7 L1634.1 1129 L1635.8 1128.8 L1637.6 1130.9 L1639.3 1131.5 L1640.9 1133.2 L1642.5 1131.2 L1644 1133.8 L1645.6 1133.8 L1647.2 1135 L1648.8 1134.6 L1650.3 1135.9 L1651.9 1137.5 L1653.5 1139.6 L1655 1137.7 L1656.6 1139.8 L1658.2 1141.6 L1659.8 1143 L1661.3 1141.2 L1662.9 1141.7 L1664.5 1145.3 L1666.1 1144.6 L1667.8 1142.1 L1669.4 1139.8 L1671 1141.9 L1672.7 1139.3 L1674.3 1140.2 L1675.9 1138.4 L1677.6 1138.2 L1679.2 1135.1 L1680.8 1136.4 L1682.5 1133.7 L1684.1 1133.5 L1685.8 1135 L1687.5 1135.1 L1689.2 1132.9 L1690.9 1133.1 L1692.6 1133.8 L1694.3 1134.3 L1696 1133.9 L1697.7 1133.1 L1699.4 1133.6 L1701.1 1135.3 L1702.8 1135.9 L1704.5 1133.1 L1706.2 1134.9 L1707.9 1135.6 L1709.6 1133.3 L1711.3 1136.1 L1713 1133.7 L1714.7 1135.4 L1716.4 1135.3 L1718.1 1135.6 L1719.8 1134.6 L1721.5 1135.1 L1723.2 1135.7 L1725 1134.9 L1726.7 1135.4 L1728.5 1134.4 L1730.2 1134.1 L1732 1132.4 L1733.7 1134.2 L1735.5 1133.4 L1737.2 1132.3 L1739 1133.8 L1740.7 1133.6 L1742.5 1132.2 L1744.2 1131 L1746 1131.7 L1747.7 1130.2 L1749.5 1130 L1751.2 1130.8 L1752.9 1129.6 L1754.7 1130.8 L1756.4 1131 L1758.2 1129.4 L1759.9 1131.5 L1761.7 1129.6 L1763.4 1131.8 L1765.2 1131.9 L1766.9 1131 L1768.6 1129.5 L1770.4 1131 L1772.1 1130.6 L1773.9 1132.5 L1775.6 1129.8 L1777.4 1132.2 L1779.1 1132.7 L1780.8 1132.1 L1782.5 1132.7 L1784.2 1130.9 L1785.9 1133.9 L1787.7 1132.5 L1789.4 1134.4 L1791.1 1134.6 L1792.8 1132.4 L1794.5 1134.8 L1796.2 1135.6 L1797.9 1132.9 L1799.6 1134.2 L1801.3 1135.9 L1803.1 1134.2 L1804.8 1137 L1806.5 1135.2 L1808.2 1137.4 L1809.9 1135.4 L1813 1137"/>
<path d="M1813 204.7 L1813 454"/>
<path d="M1813 1137 L1813 1165"/>
</g>
<text x="24" y="94.5" font-size="64" font-weight="bold">(a)</text>
<text x="168.5" y="429.7" font-size="64" textLength="472.3" lengthAdjust="spacing">20K LNO Spent</text>
<text x="169.8" y="838.8" font-size="64" textLength="434.6" lengthAdjust="spacing">0K LNO Spent</text>
<text transform="translate(324.6 541.5) scale(1.25 1)" font-size="63" font-family="'Noto Serif CJK SC', 'Liberation Serif', serif">&#945;</text>
<text transform="translate(554.4 937.9) scale(1.25 1)" font-size="63" font-family="'Noto Serif CJK SC', 'Liberation Serif', serif">&#945;</text>
<text transform="translate(1066.7 992.1) scale(1.186 1)" font-size="66" font-family="'Noto Serif CJK SC', 'Liberation Serif', serif">&#946;</text>
<text transform="translate(68.4 812.6) rotate(-90)" font-size="64" textLength="394.5" lengthAdjust="spacing">Intensity / a.u.</text>
<text x="752" y="1436" font-size="64">Temperature / <tspan font-size="40" dy="-28">o</tspan><tspan dy="28">C</tspan></text>
<rect x="171" y="1551" width="1665.7" height="1209.3000000000002" fill="none" stroke="#000" stroke-width="5.5"/>
<path d="M171 2760.3 V2784.3 M356.1 2760.3 V2773.3 M541.2 2760.3 V2784.3 M726.2 2760.3 V2773.3 M911.3 2760.3 V2784.3 M1096.4 2760.3 V2773.3 M1281.5 2760.3 V2784.3 M1466.5 2760.3 V2773.3 M1651.6 2760.3 V2784.3 M1836.7 2760.3 V2773.3" stroke="#000" stroke-width="5" fill="none"/>
<text x="168.5" y="2846" font-size="64" text-anchor="middle">292</text>
<text x="538.7" y="2846" font-size="64" text-anchor="middle">290</text>
<text x="908.8" y="2846" font-size="64" text-anchor="middle">288</text>
<text x="1279" y="2846" font-size="64" text-anchor="middle">286</text>
<text x="1649.1" y="2846" font-size="64" text-anchor="middle">284</text>
<defs><clipPath id="cb"><rect x="169" y="1553" width="1668.5" height="1205"/></clipPath></defs>
<g clip-path="url(#cb)">
<g fill="#fff" stroke="#000" stroke-width="2">
<rect x="159" y="1831" width="24" height="24"/>
<rect x="177.5" y="1876" width="24" height="24"/>
<rect x="196" y="1925.7" width="24" height="24"/>
<rect x="214.5" y="1964.6" width="24" height="24"/>
<rect x="233" y="1997.6" width="24" height="24"/>
<rect x="251.5" y="2013.7" width="24" height="24"/>
<rect x="270" y="2036" width="24" height="24"/>
<rect x="288.6" y="2073.5" width="24" height="24"/>
<rect x="307.1" y="2064.3" width="24" height="24"/>
<rect x="325.6" y="2075.3" width="24" height="24"/>
<rect x="344.1" y="2060.6" width="24" height="24"/>
<rect x="362.6" y="2055.1" width="24" height="24"/>
<rect x="381.1" y="2073.5" width="24" height="24"/>
<rect x="399.6" y="2053.3" width="24" height="24"/>
<rect x="418.1" y="2034.2" width="24" height="24"/>
<rect x="436.6" y="2011.1" width="24" height="24"/>
<rect x="455.1" y="1956.2" width="24" height="24"/>
<rect x="473.6" y="1936.7" width="24" height="24"/>
<rect x="492.1" y="1888.3" width="24" height="24"/>
<rect x="510.6" y="1845.4" width="24" height="24"/>
<rect x="529.2" y="1798.5" width="24" height="24"/>
<rect x="547.7" y="1752.6" width="24" height="24"/>
<rect x="566.2" y="1712.2" width="24" height="24"/>
<rect x="584.7" y="1676.6" width="24" height="24"/>
<rect x="603.2" y="1666.3" width="24" height="24"/>
<rect x="621.7" y="1637" width="24" height="24"/>
<rect x="640.2" y="1648" width="24" height="24"/>
<rect x="658.7" y="1677.3" width="24" height="24"/>
<rect x="677.2" y="1684.7" width="24" height="24"/>
<rect x="695.7" y="1726.8" width="24" height="24"/>
<rect x="714.2" y="1778.1" width="24" height="24"/>
<rect x="732.7" y="1803.8" width="24" height="24"/>
<rect x="751.2" y="1858.8" width="24" height="24"/>
<rect x="769.8" y="1900.4" width="24" height="24"/>
<rect x="788.3" y="1932" width="24" height="24"/>
<rect x="806.8" y="1970.2" width="24" height="24"/>
<rect x="825.3" y="1996.3" width="24" height="24"/>
<rect x="843.8" y="2014.2" width="24" height="24"/>
<rect x="862.3" y="2034.4" width="24" height="24"/>
<rect x="880.8" y="2061.1" width="24" height="24"/>
<rect x="899.3" y="2046.5" width="24" height="24"/>
<rect x="917.8" y="2052.7" width="24" height="24"/>
<rect x="936.3" y="2077.6" width="24" height="24"/>
<rect x="954.8" y="2083.5" width="24" height="24"/>
<rect x="973.3" y="2094.6" width="24" height="24"/>
<rect x="991.9" y="2079.8" width="24" height="24"/>
<rect x="1010.4" y="2087" width="24" height="24"/>
<rect x="1028.9" y="2078" width="24" height="24"/>
<rect x="1047.4" y="2085.9" width="24" height="24"/>
<rect x="1065.9" y="2075.4" width="24" height="24"/>
<rect x="1084.4" y="2097.6" width="24" height="24"/>
<rect x="1102.9" y="2083.5" width="24" height="24"/>
<rect x="1121.4" y="2075" width="24" height="24"/>
<rect x="1139.9" y="2063.5" width="24" height="24"/>
<rect x="1158.4" y="2061.1" width="24" height="24"/>
<rect x="1176.9" y="2057.8" width="24" height="24"/>
<rect x="1195.4" y="2066.6" width="24" height="24"/>
<rect x="1213.9" y="2035.5" width="24" height="24"/>
<rect x="1232.5" y="2052.6" width="24" height="24"/>
<rect x="1251" y="2035.5" width="24" height="24"/>
<rect x="1269.5" y="2010" width="24" height="24"/>
<rect x="1288" y="1988.7" width="24" height="24"/>
<rect x="1306.5" y="1991.9" width="24" height="24"/>
<rect x="1325" y="1990.3" width="24" height="24"/>
<rect x="1343.5" y="1957.6" width="24" height="24"/>
<rect x="1362" y="1935.8" width="24" height="24"/>
<rect x="1380.5" y="1931.1" width="24" height="24"/>
<rect x="1399" y="1912.4" width="24" height="24"/>
<rect x="1417.5" y="1906.2" width="24" height="24"/>
<rect x="1436" y="1907.1" width="24" height="24"/>
<rect x="1454.5" y="1915.5" width="24" height="24"/>
<rect x="1473.1" y="1903" width="24" height="24"/>
<rect x="1491.6" y="1898" width="24" height="24"/>
<rect x="1510.1" y="1936.2" width="24" height="24"/>
<rect x="1528.6" y="1950.5" width="24" height="24"/>
<rect x="1547.1" y="1936.5" width="24" height="24"/>
<rect x="1565.6" y="1971.7" width="24" height="24"/>
<rect x="1584.1" y="2003.5" width="24" height="24"/>
<rect x="1602.6" y="2021.1" width="24" height="24"/>
<rect x="1621.1" y="2040.6" width="24" height="24"/>
<rect x="1639.6" y="2049.1" width="24" height="24"/>
<rect x="1658.1" y="2080.7" width="24" height="24"/>
<rect x="1676.6" y="2077.4" width="24" height="24"/>
<rect x="1695.1" y="2084.9" width="24" height="24"/>
<rect x="1713.7" y="2101.8" width="24" height="24"/>
<rect x="1732.2" y="2113.2" width="24" height="24"/>
<rect x="1750.7" y="2082.3" width="24" height="24"/>
<rect x="1769.2" y="2105.1" width="24" height="24"/>
<rect x="1787.7" y="2121.3" width="24" height="24"/>
<rect x="1806.2" y="2112.2" width="24" height="24"/>
<rect x="1824.7" y="2111" width="24" height="24"/>
<rect x="159" y="2676" width="24" height="24"/>
<rect x="177.5" y="2681.5" width="24" height="24"/>
<rect x="196" y="2670.3" width="24" height="24"/>
<rect x="214.5" y="2675.8" width="24" height="24"/>
<rect x="233" y="2670.3" width="24" height="24"/>
<rect x="251.5" y="2671" width="24" height="24"/>
<rect x="270" y="2658" width="24" height="24"/>
<rect x="288.6" y="2648.1" width="24" height="24"/>
<rect x="307.1" y="2655" width="24" height="24"/>
<rect x="325.6" y="2607" width="24" height="24"/>
<rect x="344.1" y="2589.6" width="24" height="24"/>
<rect x="362.6" y="2565" width="24" height="24"/>
<rect x="381.1" y="2523.6" width="24" height="24"/>
<rect x="399.6" y="2486.2" width="24" height="24"/>
<rect x="418.1" y="2453.5" width="24" height="24"/>
<rect x="436.6" y="2402.2" width="24" height="24"/>
<rect x="455.1" y="2356" width="24" height="24"/>
<rect x="473.6" y="2302.2" width="24" height="24"/>
<rect x="492.1" y="2260.4" width="24" height="24"/>
<rect x="510.6" y="2254.1" width="24" height="24"/>
<rect x="529.2" y="2248.2" width="24" height="24"/>
<rect x="547.7" y="2244.7" width="24" height="24"/>
<rect x="566.2" y="2252.7" width="24" height="24"/>
<rect x="584.7" y="2298.7" width="24" height="24"/>
<rect x="603.2" y="2327.2" width="24" height="24"/>
<rect x="621.7" y="2401.4" width="24" height="24"/>
<rect x="640.2" y="2449" width="24" height="24"/>
<rect x="658.7" y="2465.6" width="24" height="24"/>
<rect x="677.2" y="2525.4" width="24" height="24"/>
<rect x="695.7" y="2548.5" width="24" height="24"/>
<rect x="714.2" y="2581.5" width="24" height="24"/>
<rect x="732.7" y="2589.7" width="24" height="24"/>
<rect x="751.2" y="2602.9" width="24" height="24"/>
<rect x="769.8" y="2621" width="24" height="24"/>
<rect x="788.3" y="2619.1" width="24" height="24"/>
<rect x="806.8" y="2626.7" width="24" height="24"/>
<rect x="825.3" y="2642.5" width="24" height="24"/>
<rect x="843.8" y="2641.2" width="24" height="24"/>
<rect x="862.3" y="2648.5" width="24" height="24"/>
<rect x="880.8" y="2641.2" width="24" height="24"/>
<rect x="899.3" y="2655.7" width="24" height="24"/>
<rect x="917.8" y="2650.8" width="24" height="24"/>
<rect x="936.3" y="2659" width="24" height="24"/>
<rect x="954.8" y="2645.8" width="24" height="24"/>
<rect x="973.3" y="2645.8" width="24" height="24"/>
<rect x="991.9" y="2628.5" width="24" height="24"/>
<rect x="1010.4" y="2631.5" width="24" height="24"/>
<rect x="1028.9" y="2651.6" width="24" height="24"/>
<rect x="1047.4" y="2628.5" width="24" height="24"/>
<rect x="1065.9" y="2628.5" width="24" height="24"/>
<rect x="1084.4" y="2633.1" width="24" height="24"/>
<rect x="1102.9" y="2617" width="24" height="24"/>
<rect x="1121.4" y="2619.6" width="24" height="24"/>
<rect x="1139.9" y="2611.4" width="24" height="24"/>
<rect x="1158.4" y="2611" width="24" height="24"/>
<rect x="1176.9" y="2620" width="24" height="24"/>
<rect x="1195.4" y="2597.2" width="24" height="24"/>
<rect x="1213.9" y="2595.5" width="24" height="24"/>
<rect x="1232.5" y="2592.9" width="24" height="24"/>
<rect x="1251" y="2562.5" width="24" height="24"/>
<rect x="1269.5" y="2590.6" width="24" height="24"/>
<rect x="1288" y="2550.3" width="24" height="24"/>
<rect x="1306.5" y="2526.2" width="24" height="24"/>
<rect x="1325" y="2519.5" width="24" height="24"/>
<rect x="1343.5" y="2512.2" width="24" height="24"/>
<rect x="1362" y="2478.2" width="24" height="24"/>
<rect x="1380.5" y="2461.7" width="24" height="24"/>
<rect x="1399" y="2456.7" width="24" height="24"/>
<rect x="1417.5" y="2461.7" width="24" height="24"/>
<rect x="1436" y="2456" width="24" height="24"/>
<rect x="1454.5" y="2447.5" width="24" height="24"/>
<rect x="1473.1" y="2463.3" width="24" height="24"/>
<rect x="1491.6" y="2461.7" width="24" height="24"/>
<rect x="1510.1" y="2468.3" width="24" height="24"/>
<rect x="1528.6" y="2482.5" width="24" height="24"/>
<rect x="1547.1" y="2506.2" width="24" height="24"/>
<rect x="1565.6" y="2561.3" width="24" height="24"/>
<rect x="1584.1" y="2548.5" width="24" height="24"/>
<rect x="1602.6" y="2582.1" width="24" height="24"/>
<rect x="1621.1" y="2591.7" width="24" height="24"/>
<rect x="1639.6" y="2604.2" width="24" height="24"/>
<rect x="1658.1" y="2626.2" width="24" height="24"/>
<rect x="1676.6" y="2637.6" width="24" height="24"/>
<rect x="1695.1" y="2647.1" width="24" height="24"/>
<rect x="1713.7" y="2645.4" width="24" height="24"/>
<rect x="1732.2" y="2665" width="24" height="24"/>
<rect x="1750.7" y="2665" width="24" height="24"/>
<rect x="1769.2" y="2662" width="24" height="24"/>
<rect x="1787.7" y="2681.9" width="24" height="24"/>
<rect x="1806.2" y="2670.5" width="24" height="24"/>
<rect x="1824.7" y="2661.9" width="24" height="24"/>
</g>
<g fill="none" stroke-width="3.5" stroke-linejoin="round">
<path d="M171 2133.1 L174 2133.1 L177 2133.1 L180 2133.2 L183 2133.2 L186 2133.2 L189 2133.3 L192 2133.3 L195 2133.3 L198 2133.3 L201 2133.4 L204 2133.4 L207 2133.4 L210 2133.4 L213 2133.4 L216 2133.5 L219 2133.5 L222 2133.5 L225 2133.5 L228 2133.6 L231 2133.6 L234 2133.6 L237 2133.6 L240 2133.6 L243 2133.7 L246 2133.7 L249 2133.7 L252 2133.7 L255 2133.7 L258 2133.7 L261 2133.8 L264 2133.8 L267 2133.8 L270 2133.8 L273 2133.8 L276 2133.8 L279 2133.9 L282 2133.9 L285 2133.9 L288 2133.9 L291 2133.9 L294 2133.9 L297 2133.9 L300 2134 L303 2134 L306 2134 L309 2134 L312 2134 L315 2134 L318 2134 L321 2134 L324 2134.1 L327 2134.1 L330 2134.1 L333 2134.1 L336 2134.1 L339 2134.1 L342 2134.1 L345 2134.1 L348 2134.1 L351 2134.1 L354 2134.2 L357 2134.2 L360 2134.2 L363 2134.2 L366 2134.2 L369 2134.2 L372 2134.2 L375 2134.2 L378 2134.2 L381 2134.2 L384 2134.2 L387 2134.2 L390 2134.2 L393 2134.3 L396 2134.3 L399 2134.3 L402 2134.3 L405 2134.3 L408 2134.3 L411 2134.3 L414 2134.3 L417 2134.3 L420 2134.3 L423 2134.3 L426 2134.3 L429 2134.3 L432 2134.3 L435 2134.3 L438 2134.3 L441 2134.3 L444 2134.3 L447 2134.3 L450 2134.3 L453 2134.3 L456 2134.3 L459 2134.3 L462 2134.4 L465 2134.4 L468 2134.4 L471 2134.4 L474 2134.4 L477 2134.4 L480 2134.4 L483 2134.4 L486 2134.4 L489 2134.4 L492 2134.4 L495 2134.4 L498 2134.4 L501 2134.4 L504 2134.4 L507 2134.4 L510 2134.4 L513 2134.4 L516 2134.4 L519 2134.4 L522 2134.4 L525 2134.4 L528 2134.4 L531 2134.4 L534 2134.4 L537 2134.4 L540 2134.4 L543 2134.4 L546 2134.4 L549 2134.4 L552 2134.4 L555 2134.4 L558 2134.4 L561 2134.4 L564 2134.4 L567 2134.4 L570 2134.4 L573 2134.4 L576 2134.4 L579 2134.4 L582 2134.4 L585 2134.4 L588 2134.4 L591 2134.4 L594 2134.4 L597 2134.4 L600 2134.4 L603 2134.4 L606 2134.4 L609 2134.4 L612 2134.4 L615 2134.4 L618 2134.4 L621 2134.4 L624 2134.4 L627 2134.4 L630 2134.4 L633 2134.4 L636 2134.4 L639 2134.4 L642 2134.4 L645 2134.4 L648 2134.4 L651 2134.5 L654 2134.5 L657 2134.5 L660 2134.5 L663 2134.5 L666 2134.5 L669 2134.5 L672 2134.5 L675 2134.5 L678 2134.5 L681 2134.5 L684 2134.5 L687 2134.5 L690 2134.5 L693 2134.5 L696 2134.5 L699 2134.5 L702 2134.5 L705 2134.5 L708 2134.5 L711 2134.5 L714 2134.5 L717 2134.5 L720 2134.5 L723 2134.5 L726 2134.5 L729 2134.5 L732 2134.6 L735 2134.6 L738 2134.6 L741 2134.6 L744 2134.6 L747 2134.6 L750 2134.6 L753 2134.6 L756 2134.6 L759 2134.6 L762 2134.6 L765 2134.6 L768 2134.6 L771 2134.6 L774 2134.7 L777 2134.7 L780 2134.7 L783 2134.7 L786 2134.7 L789 2134.7 L792 2134.7 L795 2134.7 L798 2134.7 L801 2134.7 L804 2134.8 L807 2134.8 L810 2134.8 L813 2134.8 L816 2134.8 L819 2134.8 L822 2134.8 L825 2134.8 L828 2134.8 L831 2134.9 L834 2134.9 L837 2134.9 L840 2134.9 L843 2134.9 L846 2134.9 L849 2134.9 L852 2135 L855 2135 L858 2135 L861 2135 L864 2135 L867 2135 L870 2135.1 L873 2135.1 L876 2135.1 L879 2135.1 L882 2135.1 L885 2135.1 L888 2135.2 L891 2135.2 L894 2135.2 L897 2135.2 L900 2135.2 L903 2135.3 L906 2135.3 L909 2135.3 L912 2135.3 L915 2135.3 L918 2135.4 L921 2135.4 L924 2135.4 L927 2135.4 L930 2135.5 L933 2135.5 L936 2135.5 L939 2135.5 L942 2135.6 L945 2135.6 L948 2135.6 L951 2135.6 L954 2135.7 L957 2135.7 L960 2135.7 L963 2135.8 L966 2135.8 L969 2135.8 L972 2135.8 L975 2135.9 L978 2135.9 L981 2135.9 L984 2135.9 L987 2135.9 L990 2135.9 L993 2135.9 L996 2135.9 L999 2135.9 L1002 2135.9 L1005 2135.9 L1008 2135.8 L1011 2135.8 L1014 2135.8 L1017 2135.7 L1020 2135.6 L1023 2135.6 L1026 2135.5 L1029 2135.4 L1032 2135.2 L1035 2135.1 L1038 2135 L1041 2134.8 L1044 2134.7 L1047 2134.5 L1050 2134.3 L1053 2134.1 L1056 2133.8 L1059 2133.6 L1062 2133.3 L1065 2133 L1068 2132.7 L1071 2132.4 L1074 2132.1 L1077 2131.7 L1080 2131.3 L1083 2130.9 L1086 2130.5 L1089 2130 L1092 2129.6 L1095 2129.1 L1098 2128.6 L1101 2128 L1104 2127.4 L1107 2126.8 L1110 2126.2 L1113 2125.6 L1116 2124.9 L1119 2124.2 L1122 2123.5 L1125 2122.7 L1128 2121.9 L1131 2121.1 L1134 2120.2 L1137 2119.3 L1140 2118.4 L1143 2117.5 L1146 2116.5 L1149 2115.5 L1152 2114.4 L1155 2113.4 L1158 2112.2 L1161 2111.1 L1164 2109.9 L1167 2108.7 L1170 2107.4 L1173 2106.1 L1176 2104.8 L1179 2103.4 L1182 2102 L1185 2100.5 L1188 2099 L1191 2097.5 L1194 2095.9 L1197 2094.3 L1200 2092.6 L1203 2090.9 L1206 2089.2 L1209 2087.4 L1212 2085.6 L1215 2083.8 L1218 2081.8 L1221 2079.9 L1224 2077.9 L1227 2075.9 L1230 2073.8 L1233 2071.7 L1236 2069.5 L1239 2067.3 L1242 2065.1 L1245 2062.8 L1248 2060.4 L1251 2058 L1254 2055.6 L1257 2053.1 L1260 2050.6 L1263 2048 L1266 2045.4 L1269 2042.7 L1272 2040 L1275 2037.2 L1278 2034.4 L1281 2031.6 L1284 2028.6 L1287 2025.7 L1290 2022.7 L1293 2019.6 L1296 2016.6 L1299 2013.4 L1302 2010.3 L1305 2007.1 L1308 2004 L1311 2000.8 L1314 1997.6 L1317 1994.4 L1320 1991.2 L1323 1988 L1326 1984.8 L1329 1981.6 L1332 1978.5 L1335 1975.3 L1338 1972.2 L1341 1969.1 L1344 1966.1 L1347 1963.1 L1350 1960.2 L1353 1957.3 L1356 1954.4 L1359 1951.6 L1362 1948.9 L1365 1946.3 L1368 1943.7 L1371 1941.2 L1374 1938.7 L1377 1936.4 L1380 1934.1 L1383 1932 L1386 1929.9 L1389 1928 L1392 1926.1 L1395 1924.4 L1398 1922.8 L1401 1921.3 L1404 1920 L1407 1918.7 L1410 1917.6 L1413 1916.7 L1416 1915.8 L1419 1915.2 L1422 1914.6 L1425 1914.2 L1428 1913.9 L1431 1913.8 L1434 1913.8 L1437 1913.9 L1440 1914.1 L1443 1914.5 L1446 1915 L1449 1915.7 L1452 1916.5 L1455 1917.4 L1458 1918.4 L1461 1919.6 L1464 1920.9 L1467 1922.3 L1470 1923.9 L1473 1925.6 L1476 1927.4 L1479 1929.3 L1482 1931.4 L1485 1933.5 L1488 1935.8 L1491 1938.2 L1494 1940.7 L1497 1943.3 L1500 1946 L1503 1948.7 L1506 1951.6 L1509 1954.5 L1512 1957.5 L1515 1960.6 L1518 1963.7 L1521 1966.9 L1524 1970.1 L1527 1973.4 L1530 1976.8 L1533 1980.1 L1536 1983.5 L1539 1987 L1542 1990.4 L1545 1993.9 L1548 1997.4 L1551 2000.9 L1554 2004.4 L1557 2007.9 L1560 2011.4 L1563 2015 L1566 2018.4 L1569 2021.9 L1572 2025.4 L1575 2028.8 L1578 2032.2 L1581 2035.6 L1584 2038.9 L1587 2042.2 L1590 2045.4 L1593 2048.6 L1596 2051.8 L1599 2054.9 L1602 2057.9 L1605 2060.9 L1608 2063.8 L1611 2066.7 L1614 2069.5 L1617 2072.2 L1620 2074.9 L1623 2077.5 L1626 2080.1 L1629 2082.6 L1632 2085 L1635 2087.3 L1638 2089.6 L1641 2091.8 L1644 2094 L1647 2096 L1650 2098.1 L1653 2100 L1656 2101.9 L1659 2103.7 L1662 2105.4 L1665 2107.1 L1668 2108.7 L1671 2110.3 L1674 2111.8 L1677 2113.3 L1680 2114.7 L1683 2116 L1686 2117.3 L1689 2118.5 L1692 2119.7 L1695 2120.9 L1698 2122 L1701 2123 L1704 2124 L1707 2124.9 L1710 2125.8 L1713 2126.7 L1716 2127.5 L1719 2128.3 L1722 2129 L1725 2129.7 L1728 2130.4 L1731 2131 L1734 2131.6 L1737 2132.2 L1740 2132.7 L1743 2133.2 L1746 2133.7 L1749 2134.1 L1752 2134.5 L1755 2134.9 L1758 2135.2 L1761 2135.6 L1764 2135.9 L1767 2136.2 L1770 2136.4 L1773 2136.7 L1776 2136.9 L1779 2137.1 L1782 2137.3 L1785 2137.4 L1788 2137.6 L1791 2137.8 L1794 2137.9 L1797 2138 L1800 2138.1 L1803 2138.2 L1806 2138.3 L1809 2138.4 L1812 2138.5 L1815 2138.6 L1818 2138.7 L1821 2138.7 L1824 2138.8 L1827 2138.9 L1830 2139 L1833 2139.1 L1836 2139.2 L1837 2139.2" stroke="#0000ff" stroke-width="3.5"/>
<path d="M171 2128.8 L174 2128.7 L177 2128.6 L180 2128.5 L183 2128.4 L186 2128.3 L189 2128.2 L192 2128.1 L195 2128.1 L198 2128 L201 2127.9 L204 2127.8 L207 2127.7 L210 2127.7 L213 2127.6 L216 2127.5 L219 2127.4 L222 2127.2 L225 2127.1 L228 2127 L231 2126.8 L234 2126.7 L237 2126.5 L240 2126.3 L243 2126.1 L246 2125.9 L249 2125.6 L252 2125.4 L255 2125.1 L258 2124.8 L261 2124.5 L264 2124.1 L267 2123.8 L270 2123.4 L273 2122.9 L276 2122.5 L279 2122 L282 2121.5 L285 2120.9 L288 2120.3 L291 2119.7 L294 2119.1 L297 2118.4 L300 2117.7 L303 2116.9 L306 2116.1 L309 2115.2 L312 2114.4 L315 2113.4 L318 2112.5 L321 2111.4 L324 2110.4 L327 2109.3 L330 2108.1 L333 2106.9 L336 2105.6 L339 2104.3 L342 2103 L345 2101.5 L348 2100.1 L351 2098.5 L354 2096.9 L357 2095.3 L360 2093.6 L363 2091.8 L366 2090 L369 2088.1 L372 2086.1 L375 2084.1 L378 2082 L381 2079.9 L384 2077.7 L387 2075.4 L390 2073 L393 2070.6 L396 2068.1 L399 2065.5 L402 2062.8 L405 2060.1 L408 2057.3 L411 2054.4 L414 2051.4 L417 2048.3 L420 2045.2 L423 2042 L426 2038.7 L429 2035.3 L432 2031.8 L435 2028.2 L438 2024.6 L441 2020.8 L444 2016.9 L447 2013 L450 2008.9 L453 2004.7 L456 2000.4 L459 1995.9 L462 1991.4 L465 1986.7 L468 1981.9 L471 1976.9 L474 1971.8 L477 1966.6 L480 1961.2 L483 1955.6 L486 1949.9 L489 1944.1 L492 1938 L495 1931.9 L498 1925.6 L501 1919.2 L504 1912.7 L507 1906 L510 1899.3 L513 1892.5 L516 1885.6 L519 1878.6 L522 1871.6 L525 1864.5 L528 1857.5 L531 1850.4 L534 1843.3 L537 1836.3 L540 1829.2 L543 1822.3 L546 1815.4 L549 1808.5 L552 1801.8 L555 1795.1 L558 1788.5 L561 1782.1 L564 1775.7 L567 1769.5 L570 1763.4 L573 1757.4 L576 1751.6 L579 1746 L582 1740.5 L585 1735.2 L588 1730.1 L591 1725.2 L594 1720.5 L597 1715.9 L600 1711.7 L603 1707.6 L606 1703.8 L609 1700.2 L612 1696.9 L615 1693.8 L618 1690.9 L621 1688.3 L624 1686 L627 1683.9 L630 1682.1 L633 1680.5 L636 1679.2 L639 1678.2 L642 1677.5 L645 1677 L648 1676.8 L651 1676.9 L654 1677.2 L657 1677.9 L660 1678.9 L663 1680.1 L666 1681.7 L669 1683.5 L672 1685.6 L675 1687.9 L678 1690.6 L681 1693.4 L684 1696.5 L687 1699.9 L690 1703.5 L693 1707.2 L696 1711.2 L699 1715.4 L702 1719.8 L705 1724.4 L708 1729.2 L711 1734.1 L714 1739.2 L717 1744.4 L720 1749.8 L723 1755.3 L726 1760.9 L729 1766.7 L732 1772.6 L735 1778.6 L738 1784.7 L741 1790.9 L744 1797.1 L747 1803.5 L750 1809.9 L753 1816.4 L756 1822.9 L759 1829.5 L762 1836.1 L765 1842.8 L768 1849.5 L771 1856.2 L774 1862.9 L777 1869.6 L780 1876.3 L783 1883 L786 1889.7 L789 1896.4 L792 1903 L795 1909.6 L798 1916.2 L801 1922.7 L804 1929.1 L807 1935.5 L810 1941.8 L813 1948 L816 1954.1 L819 1960.1 L822 1966 L825 1971.8 L828 1977.5 L831 1983.1 L834 1988.5 L837 1993.8 L840 1998.9 L843 2004 L846 2008.9 L849 2013.6 L852 2018.3 L855 2022.8 L858 2027.2 L861 2031.4 L864 2035.6 L867 2039.6 L870 2043.6 L873 2047.4 L876 2051.1 L879 2054.6 L882 2058.1 L885 2061.5 L888 2064.7 L891 2067.9 L894 2071 L897 2073.9 L900 2076.8 L903 2079.6 L906 2082.2 L909 2084.8 L912 2087.3 L915 2089.7 L918 2092 L921 2094.2 L924 2096.3 L927 2098.4 L930 2100.4 L933 2102.3 L936 2104.1 L939 2105.8 L942 2107.5 L945 2109.1 L948 2110.6 L951 2112.1 L954 2113.5 L957 2114.8 L960 2116 L963 2117.2 L966 2118.4 L969 2119.5 L972 2120.5 L975 2121.4 L978 2122.4 L981 2123.2 L984 2124 L987 2124.8 L990 2125.5 L993 2126.2 L996 2126.8 L999 2127.4 L1002 2128 L1005 2128.5 L1008 2129 L1011 2129.4 L1014 2129.8 L1017 2130.2 L1020 2130.6 L1023 2130.9 L1026 2131.2 L1029 2131.5 L1032 2131.7 L1035 2131.9 L1038 2132.2 L1041 2132.4 L1044 2132.5 L1047 2132.7 L1050 2132.9 L1053 2133 L1056 2133.2 L1059 2133.3 L1062 2133.4 L1065 2133.6 L1068 2133.7 L1071 2133.8 L1074 2133.9 L1077 2134 L1080 2134.1 L1083 2134.3 L1086 2134.4 L1089 2134.5 L1092 2134.6 L1095 2134.7 L1098 2134.8 L1101 2134.8 L1104 2134.9 L1107 2135 L1110 2135.1 L1113 2135.2 L1116 2135.3 L1119 2135.3 L1122 2135.4 L1125 2135.5 L1128 2135.5 L1131 2135.6 L1134 2135.7 L1137 2135.7 L1140 2135.8 L1143 2135.8 L1146 2135.9 L1149 2135.9 L1152 2136 L1155 2136 L1158 2136.1 L1161 2136.1 L1164 2136.2 L1167 2136.2 L1170 2136.2 L1173 2136.3 L1176 2136.3 L1179 2136.3 L1182 2136.4 L1185 2136.4 L1188 2136.4 L1191 2136.4 L1194 2136.5 L1197 2136.5 L1200 2136.5 L1203 2136.5 L1206 2136.6 L1209 2136.6 L1212 2136.6 L1215 2136.6 L1218 2136.6 L1221 2136.6 L1224 2136.6 L1227 2136.6 L1230 2136.6 L1233 2136.7 L1236 2136.7 L1239 2136.7 L1242 2136.7 L1245 2136.7 L1248 2136.7 L1251 2136.7 L1254 2136.7 L1257 2136.7 L1260 2136.7 L1263 2136.7 L1266 2136.7 L1269 2136.7 L1272 2136.7 L1275 2136.7 L1278 2136.7 L1281 2136.7 L1284 2136.6 L1287 2136.6 L1290 2136.6 L1293 2136.6 L1296 2136.6 L1299 2136.6 L1302 2136.6 L1305 2136.6 L1308 2136.6 L1311 2136.6 L1314 2136.6 L1317 2136.6 L1320 2136.6 L1323 2136.6 L1326 2136.6 L1329 2136.6 L1332 2136.6 L1335 2136.6 L1338 2136.5 L1341 2136.5 L1344 2136.5 L1347 2136.5 L1350 2136.5 L1353 2136.5 L1356 2136.5 L1359 2136.5 L1362 2136.5 L1365 2136.5 L1368 2136.5 L1371 2136.5 L1374 2136.5 L1377 2136.5 L1380 2136.6 L1383 2136.6 L1386 2136.6 L1389 2136.6 L1392 2136.6 L1395 2136.6 L1398 2136.6 L1401 2136.6 L1404 2136.6 L1407 2136.6 L1410 2136.7 L1413 2136.7 L1416 2136.7 L1419 2136.7 L1422 2136.7 L1425 2136.8 L1428 2136.8 L1431 2136.8 L1434 2136.9 L1437 2136.9 L1440 2136.9 L1443 2137 L1446 2137 L1449 2137 L1452 2137.1 L1455 2137.1 L1458 2137.2 L1461 2137.2 L1464 2137.3 L1467 2137.3 L1470 2137.4 L1473 2137.4 L1476 2137.5 L1479 2137.5 L1482 2137.6 L1485 2137.6 L1488 2137.7 L1491 2137.8 L1494 2137.8 L1497 2137.9 L1500 2138 L1503 2138 L1506 2138.1 L1509 2138.2 L1512 2138.2 L1515 2138.3 L1518 2138.4 L1521 2138.5 L1524 2138.5 L1527 2138.6 L1530 2138.7 L1533 2138.8 L1536 2138.9 L1539 2138.9 L1542 2139 L1545 2139.1 L1548 2139.2 L1551 2139.3 L1554 2139.3 L1557 2139.4 L1560 2139.5 L1563 2139.6 L1566 2139.7 L1569 2139.8 L1572 2139.8 L1575 2139.9 L1578 2140 L1581 2140.1 L1584 2140.2 L1587 2140.3 L1590 2140.4 L1593 2140.4 L1596 2140.5 L1599 2140.6 L1602 2140.7 L1605 2140.8 L1608 2140.9 L1611 2141 L1614 2141 L1617 2141.1 L1620 2141.2 L1623 2141.3 L1626 2141.4 L1629 2141.4 L1632 2141.5 L1635 2141.6 L1638 2141.7 L1641 2141.8 L1644 2141.8 L1647 2141.9 L1650 2142 L1653 2142.1 L1656 2142.1 L1659 2142.2 L1662 2142.3 L1665 2142.3 L1668 2142.4 L1671 2142.5 L1674 2142.5 L1677 2142.6 L1680 2142.7 L1683 2142.7 L1686 2142.8 L1689 2142.8 L1692 2142.9 L1695 2142.9 L1698 2143 L1701 2143 L1704 2143.1 L1707 2143.1 L1710 2143.2 L1713 2143.2 L1716 2143.3 L1719 2143.3 L1722 2143.3 L1725 2143.4 L1728 2143.4 L1731 2143.4 L1734 2143.5 L1737 2143.5 L1740 2143.5 L1743 2143.5 L1746 2143.5 L1749 2143.6 L1752 2143.6 L1755 2143.6 L1758 2143.6 L1761 2143.6 L1764 2143.6 L1767 2143.6 L1770 2143.6 L1773 2143.6 L1776 2143.6 L1779 2143.5 L1782 2143.5 L1785 2143.5 L1788 2143.5 L1791 2143.5 L1794 2143.4 L1797 2143.4 L1800 2143.4 L1803 2143.3 L1806 2143.3 L1809 2143.2 L1812 2143.2 L1815 2143.1 L1818 2143.1 L1821 2143 L1824 2142.9 L1827 2142.9 L1830 2142.8 L1833 2142.7 L1836 2142.6 L1837 2142.6" stroke="#00ffff" stroke-width="3.5"/>
<path d="M171 2130.4 L174 2130.5 L177 2130.5 L180 2130.6 L183 2130.6 L186 2130.7 L189 2130.7 L192 2130.8 L195 2130.8 L198 2130.9 L201 2130.9 L204 2131 L207 2131 L210 2131.1 L213 2131.1 L216 2131.1 L219 2131.2 L222 2131.2 L225 2131.2 L228 2131.3 L231 2131.3 L234 2131.3 L237 2131.3 L240 2131.4 L243 2131.4 L246 2131.4 L249 2131.4 L252 2131.4 L255 2131.5 L258 2131.5 L261 2131.5 L264 2131.5 L267 2131.5 L270 2131.5 L273 2131.5 L276 2131.5 L279 2131.5 L282 2131.5 L285 2131.5 L288 2131.6 L291 2131.6 L294 2131.6 L297 2131.6 L300 2131.5 L303 2131.5 L306 2131.5 L309 2131.5 L312 2131.5 L315 2131.5 L318 2131.5 L321 2131.5 L324 2131.5 L327 2131.5 L330 2131.5 L333 2131.5 L336 2131.5 L339 2131.5 L342 2131.4 L345 2131.4 L348 2131.4 L351 2131.4 L354 2131.4 L357 2131.4 L360 2131.4 L363 2131.3 L366 2131.3 L369 2131.3 L372 2131.3 L375 2131.3 L378 2131.3 L381 2131.3 L384 2131.2 L387 2131.2 L390 2131.2 L393 2131.2 L396 2131.2 L399 2131.2 L402 2131.2 L405 2131.1 L408 2131.1 L411 2131.1 L414 2131.1 L417 2131.1 L420 2131.1 L423 2131.1 L426 2131 L429 2131 L432 2131 L435 2131 L438 2131 L441 2131 L444 2131 L447 2131 L450 2131 L453 2130.9 L456 2130.9 L459 2130.9 L462 2130.9 L465 2130.9 L468 2130.9 L471 2130.9 L474 2130.9 L477 2130.9 L480 2130.9 L483 2130.9 L486 2130.9 L489 2130.9 L492 2130.9 L495 2130.9 L498 2130.9 L501 2130.9 L504 2130.9 L507 2130.9 L510 2131 L513 2131 L516 2131 L519 2131 L522 2131 L525 2131 L528 2131 L531 2131.1 L534 2131.1 L537 2131.1 L540 2131.1 L543 2131.2 L546 2131.2 L549 2131.2 L552 2131.2 L555 2131.3 L558 2131.3 L561 2131.3 L564 2131.4 L567 2131.4 L570 2131.5 L573 2131.5 L576 2131.6 L579 2131.6 L582 2131.7 L585 2131.7 L588 2131.8 L591 2131.8 L594 2131.9 L597 2131.9 L600 2132 L603 2132 L606 2132.1 L609 2132.1 L612 2132.2 L615 2132.3 L618 2132.3 L621 2132.4 L624 2132.4 L627 2132.5 L630 2132.6 L633 2132.6 L636 2132.7 L639 2132.7 L642 2132.8 L645 2132.9 L648 2132.9 L651 2133 L654 2133 L657 2133.1 L660 2133.2 L663 2133.2 L666 2133.3 L669 2133.3 L672 2133.4 L675 2133.4 L678 2133.5 L681 2133.6 L684 2133.6 L687 2133.7 L690 2133.7 L693 2133.7 L696 2133.8 L699 2133.8 L702 2133.9 L705 2133.9 L708 2134 L711 2134 L714 2134 L717 2134.1 L720 2134.1 L723 2134.1 L726 2134.2 L729 2134.2 L732 2134.2 L735 2134.2 L738 2134.2 L741 2134.3 L744 2134.3 L747 2134.3 L750 2134.3 L753 2134.3 L756 2134.3 L759 2134.3 L762 2134.3 L765 2134.3 L768 2134.3 L771 2134.2 L774 2134.2 L777 2134.2 L780 2134.2 L783 2134.1 L786 2134.1 L789 2134.1 L792 2134 L795 2134 L798 2133.9 L801 2133.9 L804 2133.8 L807 2133.8 L810 2133.7 L813 2133.6 L816 2133.6 L819 2133.5 L822 2133.4 L825 2133.3 L828 2133.3 L831 2133.2 L834 2133.1 L837 2133 L840 2132.9 L843 2132.8 L846 2132.7 L849 2132.6 L852 2132.4 L855 2132.3 L858 2132.2 L861 2132.1 L864 2131.9 L867 2131.8 L870 2131.7 L873 2131.5 L876 2131.4 L879 2131.2 L882 2131.1 L885 2130.9 L888 2130.7 L891 2130.6 L894 2130.4 L897 2130.2 L900 2130 L903 2129.8 L906 2129.6 L909 2129.4 L912 2129.2 L915 2129 L918 2128.8 L921 2128.6 L924 2128.4 L927 2128.2 L930 2127.9 L933 2127.7 L936 2127.5 L939 2127.2 L942 2127 L945 2126.7 L948 2126.5 L951 2126.2 L954 2125.9 L957 2125.7 L960 2125.4 L963 2125.1 L966 2124.8 L969 2124.5 L972 2124.2 L975 2123.9 L978 2123.6 L981 2123.3 L984 2123 L987 2122.7 L990 2122.4 L993 2122.1 L996 2121.7 L999 2121.4 L1002 2121.1 L1005 2120.8 L1008 2120.4 L1011 2120.1 L1014 2119.8 L1017 2119.4 L1020 2119.1 L1023 2118.8 L1026 2118.5 L1029 2118.1 L1032 2117.8 L1035 2117.5 L1038 2117.2 L1041 2116.9 L1044 2116.6 L1047 2116.3 L1050 2116 L1053 2115.7 L1056 2115.4 L1059 2115.1 L1062 2114.8 L1065 2114.6 L1068 2114.3 L1071 2114 L1074 2113.8 L1077 2113.6 L1080 2113.3 L1083 2113.1 L1086 2112.9 L1089 2112.7 L1092 2112.5 L1095 2112.3 L1098 2112.1 L1101 2112 L1104 2111.8 L1107 2111.7 L1110 2111.5 L1113 2111.4 L1116 2111.3 L1119 2111.2 L1122 2111.1 L1125 2111 L1128 2110.9 L1131 2110.9 L1134 2110.8 L1137 2110.8 L1140 2110.7 L1143 2110.7 L1146 2110.7 L1149 2110.7 L1152 2110.7 L1155 2110.7 L1158 2110.7 L1161 2110.8 L1164 2110.8 L1167 2110.9 L1170 2111 L1173 2111 L1176 2111.1 L1179 2111.2 L1182 2111.3 L1185 2111.5 L1188 2111.6 L1191 2111.7 L1194 2111.9 L1197 2112.1 L1200 2112.2 L1203 2112.4 L1206 2112.6 L1209 2112.8 L1212 2113 L1215 2113.3 L1218 2113.5 L1221 2113.8 L1224 2114 L1227 2114.3 L1230 2114.6 L1233 2114.8 L1236 2115.1 L1239 2115.4 L1242 2115.7 L1245 2116 L1248 2116.3 L1251 2116.7 L1254 2117 L1257 2117.3 L1260 2117.6 L1263 2118 L1266 2118.3 L1269 2118.7 L1272 2119 L1275 2119.4 L1278 2119.7 L1281 2120.1 L1284 2120.4 L1287 2120.8 L1290 2121.2 L1293 2121.5 L1296 2121.9 L1299 2122.3 L1302 2122.6 L1305 2123 L1308 2123.3 L1311 2123.7 L1314 2124.1 L1317 2124.4 L1320 2124.8 L1323 2125.1 L1326 2125.5 L1329 2125.8 L1332 2126.2 L1335 2126.5 L1338 2126.9 L1341 2127.2 L1344 2127.5 L1347 2127.8 L1350 2128.2 L1353 2128.5 L1356 2128.8 L1359 2129.1 L1362 2129.4 L1365 2129.7 L1368 2130 L1371 2130.3 L1374 2130.6 L1377 2130.9 L1380 2131.2 L1383 2131.5 L1386 2131.7 L1389 2132 L1392 2132.3 L1395 2132.5 L1398 2132.8 L1401 2133 L1404 2133.3 L1407 2133.5 L1410 2133.7 L1413 2134 L1416 2134.2 L1419 2134.4 L1422 2134.6 L1425 2134.8 L1428 2135 L1431 2135.2 L1434 2135.4 L1437 2135.6 L1440 2135.7 L1443 2135.9 L1446 2136.1 L1449 2136.2 L1452 2136.4 L1455 2136.5 L1458 2136.6 L1461 2136.8 L1464 2136.9 L1467 2137 L1470 2137.1 L1473 2137.2 L1476 2137.3 L1479 2137.4 L1482 2137.5 L1485 2137.6 L1488 2137.7 L1491 2137.8 L1494 2137.9 L1497 2137.9 L1500 2138 L1503 2138 L1506 2138.1 L1509 2138.2 L1512 2138.2 L1515 2138.2 L1518 2138.3 L1521 2138.3 L1524 2138.4 L1527 2138.4 L1530 2138.4 L1533 2138.4 L1536 2138.5 L1539 2138.5 L1542 2138.5 L1545 2138.5 L1548 2138.5 L1551 2138.5 L1554 2138.5 L1557 2138.5 L1560 2138.5 L1563 2138.5 L1566 2138.5 L1569 2138.5 L1572 2138.5 L1575 2138.4 L1578 2138.4 L1581 2138.4 L1584 2138.4 L1587 2138.4 L1590 2138.3 L1593 2138.3 L1596 2138.3 L1599 2138.3 L1602 2138.2 L1605 2138.2 L1608 2138.2 L1611 2138.2 L1614 2138.1 L1617 2138.1 L1620 2138.1 L1623 2138 L1626 2138 L1629 2138 L1632 2137.9 L1635 2137.9 L1638 2137.8 L1641 2137.8 L1644 2137.8 L1647 2137.7 L1650 2137.7 L1653 2137.7 L1656 2137.7 L1659 2137.6 L1662 2137.6 L1665 2137.6 L1668 2137.5 L1671 2137.5 L1674 2137.5 L1677 2137.5 L1680 2137.4 L1683 2137.4 L1686 2137.4 L1689 2137.4 L1692 2137.4 L1695 2137.3 L1698 2137.3 L1701 2137.3 L1704 2137.3 L1707 2137.3 L1710 2137.3 L1713 2137.3 L1716 2137.3 L1719 2137.3 L1722 2137.3 L1725 2137.3 L1728 2137.3 L1731 2137.3 L1734 2137.4 L1737 2137.4 L1740 2137.4 L1743 2137.4 L1746 2137.5 L1749 2137.5 L1752 2137.5 L1755 2137.6 L1758 2137.6 L1761 2137.7 L1764 2137.7 L1767 2137.8 L1770 2137.9 L1773 2137.9 L1776 2138 L1779 2138.1 L1782 2138.2 L1785 2138.3 L1788 2138.4 L1791 2138.5 L1794 2138.6 L1797 2138.7 L1800 2138.8 L1803 2138.9 L1806 2139 L1809 2139.1 L1812 2139.3 L1815 2139.4 L1818 2139.6 L1821 2139.7 L1824 2139.9 L1827 2140 L1830 2140.2 L1833 2140.4 L1836 2140.6 L1837 2140.6" stroke="#808000" stroke-width="3.5"/>
<path d="M171 2133 L1837 2140.5" stroke="#ff0000" stroke-width="3"/>
<path d="M168.8 1832.3 L171.8 1838.4 L174.8 1844.5 L177.8 1850.8 L180.8 1857.1 L183.8 1863.5 L186.8 1869.9 L189.8 1876.4 L192.8 1882.9 L195.8 1889.4 L198.8 1896 L201.8 1902.5 L204.8 1909 L207.8 1915.5 L210.8 1921.9 L213.8 1928.3 L216.8 1934.7 L219.8 1940.9 L222.8 1947.1 L225.8 1953.2 L228.8 1959.2 L231.8 1965 L234.8 1970.8 L237.8 1976.4 L240.8 1981.8 L243.8 1987.1 L246.8 1992.2 L249.8 1997.2 L252.8 2001.9 L255.8 2006.4 L258.8 2010.8 L261.8 2014.9 L264.8 2018.9 L267.8 2022.6 L270.8 2026.2 L273.8 2029.7 L276.8 2032.9 L279.8 2036 L282.8 2039 L285.8 2041.8 L288.8 2044.4 L291.8 2046.9 L294.8 2049.3 L297.8 2051.6 L300.8 2053.7 L303.8 2055.7 L306.8 2057.7 L309.8 2059.5 L312.8 2061.1 L315.8 2062.7 L318.8 2064.1 L321.8 2065.5 L324.8 2066.7 L327.8 2067.8 L330.8 2068.8 L333.8 2069.6 L336.8 2070.4 L339.8 2071 L342.8 2071.5 L345.8 2071.9 L348.8 2072.1 L351.8 2072.3 L354.8 2072.3 L357.8 2072.2 L360.8 2071.9 L363.8 2071.6 L366.8 2071.1 L369.8 2070.5 L372.8 2069.7 L375.8 2068.8 L378.8 2067.8 L381.8 2066.7 L384.8 2065.5 L387.8 2064.1 L390.8 2062.6 L393.8 2060.9 L396.8 2059.1 L399.8 2057.2 L402.8 2055.2 L405.8 2053 L408.8 2050.7 L411.8 2048.2 L414.8 2045.6 L417.8 2042.9 L420.8 2040.1 L423.8 2037.1 L426.8 2033.9 L429.8 2030.7 L432.8 2027.3 L435.8 2023.8 L438.8 2020.1 L441.8 2016.3 L444.8 2012.4 L447.8 2008.4 L450.8 2004.2 L453.8 2000 L456.8 1995.6 L459.8 1991 L462.8 1986.4 L465.8 1981.6 L468.8 1976.7 L471.8 1971.7 L474.8 1966.6 L477.8 1961.3 L480.8 1956 L483.8 1950.5 L486.8 1944.9 L489.8 1939.2 L492.8 1933.4 L495.8 1927.5 L498.8 1921.5 L501.8 1915.3 L504.8 1909.1 L507.8 1902.7 L510.8 1896.2 L513.8 1889.7 L516.8 1883 L519.8 1876.2 L522.8 1869.4 L525.8 1862.4 L528.8 1855.3 L531.8 1848.2 L534.8 1841.1 L537.8 1833.9 L540.8 1826.7 L543.8 1819.6 L546.8 1812.4 L549.8 1805.4 L552.8 1798.4 L555.8 1791.5 L558.8 1784.7 L561.8 1778.1 L564.8 1771.6 L567.8 1765.3 L570.8 1759.2 L573.8 1753.3 L576.8 1747.6 L579.8 1742.2 L582.8 1736.9 L585.8 1731.9 L588.8 1727.1 L591.8 1722.5 L594.8 1718.2 L597.8 1714 L600.8 1710.1 L603.8 1706.4 L606.8 1702.9 L609.8 1699.6 L612.8 1696.6 L615.8 1693.7 L618.8 1691 L621.8 1688.6 L624.8 1686.3 L627.8 1684.3 L630.8 1682.5 L633.8 1681 L636.8 1679.7 L639.8 1678.6 L642.8 1677.7 L645.8 1677.1 L648.8 1676.8 L651.8 1676.7 L654.8 1676.9 L657.8 1677.4 L660.8 1678.1 L663.8 1679.1 L666.8 1680.4 L669.8 1682 L672.8 1683.9 L675.8 1686.1 L678.8 1688.6 L681.8 1691.4 L684.8 1694.5 L687.8 1697.9 L690.8 1701.6 L693.8 1705.6 L696.8 1709.8 L699.8 1714.2 L702.8 1718.8 L705.8 1723.7 L708.8 1728.7 L711.8 1733.9 L714.8 1739.3 L717.8 1744.8 L720.8 1750.5 L723.8 1756.2 L726.8 1762 L729.8 1768 L732.8 1774 L735.8 1780 L738.8 1786.1 L741.8 1792.3 L744.8 1798.5 L747.8 1804.8 L750.8 1811.1 L753.8 1817.5 L756.8 1823.8 L759.8 1830.2 L762.8 1836.7 L765.8 1843.1 L768.8 1849.5 L771.8 1856 L774.8 1862.4 L777.8 1868.9 L780.8 1875.3 L783.8 1881.7 L786.8 1888.1 L789.8 1894.5 L792.8 1900.9 L795.8 1907.2 L798.8 1913.4 L801.8 1919.7 L804.8 1925.8 L807.8 1931.9 L810.8 1938 L813.8 1944 L816.8 1949.9 L819.8 1955.8 L822.8 1961.5 L825.8 1967.2 L828.8 1972.8 L831.8 1978.3 L834.8 1983.7 L837.8 1989 L840.8 1994.1 L843.8 1999.2 L846.8 2004.1 L849.8 2008.9 L852.8 2013.6 L855.8 2018.2 L858.8 2022.6 L861.8 2026.8 L864.8 2031 L867.8 2035 L870.8 2038.9 L873.8 2042.6 L876.8 2046.2 L879.8 2049.7 L882.8 2053.1 L885.8 2056.4 L888.8 2059.5 L891.8 2062.5 L894.8 2065.5 L897.8 2068.3 L900.8 2071 L903.8 2073.6 L906.8 2076 L909.8 2078.4 L912.8 2080.7 L915.8 2082.9 L918.8 2085 L921.8 2087 L924.8 2088.9 L927.8 2090.7 L930.8 2092.4 L933.8 2094 L936.8 2095.6 L939.8 2097.1 L942.8 2098.4 L945.8 2099.8 L948.8 2101 L951.8 2102.2 L954.8 2103.3 L957.8 2104.3 L960.8 2105.2 L963.8 2106.1 L966.8 2107 L969.8 2107.7 L972.8 2108.4 L975.8 2109.1 L978.8 2109.7 L981.8 2110.2 L984.8 2110.7 L987.8 2111.1 L990.8 2111.4 L993.8 2111.8 L996.8 2112 L999.8 2112.2 L1002.8 2112.4 L1005.8 2112.5 L1008.8 2112.6 L1011.8 2112.6 L1014.8 2112.6 L1017.8 2112.6 L1020.8 2112.5 L1023.8 2112.3 L1026.8 2112.2 L1029.8 2112 L1032.8 2111.7 L1035.8 2111.5 L1038.8 2111.2 L1041.8 2110.8 L1044.8 2110.5 L1047.8 2110.1 L1050.8 2109.7 L1053.8 2109.2 L1056.8 2108.7 L1059.8 2108.2 L1062.8 2107.7 L1065.8 2107.2 L1068.8 2106.6 L1071.8 2106.1 L1074.8 2105.5 L1077.8 2104.8 L1080.8 2104.2 L1083.8 2103.6 L1086.8 2102.9 L1089.8 2102.2 L1092.8 2101.5 L1095.8 2100.8 L1098.8 2100 L1101.8 2099.3 L1104.8 2098.5 L1107.8 2097.7 L1110.8 2096.9 L1113.8 2096.1 L1116.8 2095.3 L1119.8 2094.4 L1122.8 2093.6 L1125.8 2092.7 L1128.8 2091.9 L1131.8 2091 L1134.8 2090.1 L1137.8 2089.2 L1140.8 2088.3 L1143.8 2087.4 L1146.8 2086.5 L1149.8 2085.6 L1152.8 2084.7 L1155.8 2083.7 L1158.8 2082.8 L1161.8 2081.8 L1164.8 2080.9 L1167.8 2079.9 L1170.8 2078.9 L1173.8 2077.8 L1176.8 2076.8 L1179.8 2075.7 L1182.8 2074.6 L1185.8 2073.5 L1188.8 2072.3 L1191.8 2071.1 L1194.8 2069.8 L1197.8 2068.6 L1200.8 2067.2 L1203.8 2065.9 L1206.8 2064.5 L1209.8 2063 L1212.8 2061.5 L1215.8 2060 L1218.8 2058.4 L1221.8 2056.7 L1224.8 2055 L1227.8 2053.3 L1230.8 2051.4 L1233.8 2049.6 L1236.8 2047.6 L1239.8 2045.6 L1242.8 2043.5 L1245.8 2041.3 L1248.8 2039.1 L1251.8 2036.8 L1254.8 2034.4 L1257.8 2032 L1260.8 2029.5 L1263.8 2026.9 L1266.8 2024.3 L1269.8 2021.6 L1272.8 2018.8 L1275.8 2016 L1278.8 2013.2 L1281.8 2010.3 L1284.8 2007.4 L1287.8 2004.4 L1290.8 2001.4 L1293.8 1998.4 L1296.8 1995.4 L1299.8 1992.4 L1302.8 1989.4 L1305.8 1986.3 L1308.8 1983.3 L1311.8 1980.2 L1314.8 1977.2 L1317.8 1974.2 L1320.8 1971.2 L1323.8 1968.2 L1326.8 1965.2 L1329.8 1962.3 L1332.8 1959.4 L1335.8 1956.5 L1338.8 1953.7 L1341.8 1950.9 L1344.8 1948.2 L1347.8 1945.5 L1350.8 1942.9 L1353.8 1940.4 L1356.8 1937.9 L1359.8 1935.5 L1362.8 1933.2 L1365.8 1930.9 L1368.8 1928.7 L1371.8 1926.7 L1374.8 1924.7 L1377.8 1922.8 L1380.8 1920.9 L1383.8 1919.2 L1386.8 1917.6 L1389.8 1916.1 L1392.8 1914.7 L1395.8 1913.4 L1398.8 1912.2 L1401.8 1911.1 L1404.8 1910.1 L1407.8 1909.2 L1410.8 1908.4 L1413.8 1907.7 L1416.8 1907.2 L1419.8 1906.8 L1422.8 1906.5 L1425.8 1906.3 L1428.8 1906.2 L1431.8 1906.3 L1434.8 1906.5 L1437.8 1906.8 L1440.8 1907.2 L1443.8 1907.8 L1446.8 1908.5 L1449.8 1909.4 L1452.8 1910.4 L1455.8 1911.5 L1458.8 1912.8 L1461.8 1914.2 L1464.8 1915.8 L1467.8 1917.5 L1470.8 1919.4 L1473.8 1921.4 L1476.8 1923.5 L1479.8 1925.8 L1482.8 1928.1 L1485.8 1930.6 L1488.8 1933.2 L1491.8 1935.9 L1494.8 1938.7 L1497.8 1941.6 L1500.8 1944.6 L1503.8 1947.7 L1506.8 1950.8 L1509.8 1954 L1512.8 1957.3 L1515.8 1960.6 L1518.8 1964 L1521.8 1967.4 L1524.8 1970.9 L1527.8 1974.4 L1530.8 1977.9 L1533.8 1981.5 L1536.8 1985.1 L1539.8 1988.7 L1542.8 1992.3 L1545.8 1995.9 L1548.8 1999.5 L1551.8 2003 L1554.8 2006.6 L1557.8 2010.1 L1560.8 2013.7 L1563.8 2017.1 L1566.8 2020.6 L1569.8 2024 L1572.8 2027.3 L1575.8 2030.6 L1578.8 2033.9 L1581.8 2037.1 L1584.8 2040.2 L1587.8 2043.3 L1590.8 2046.3 L1593.8 2049.3 L1596.8 2052.2 L1599.8 2055.1 L1602.8 2057.9 L1605.8 2060.7 L1608.8 2063.4 L1611.8 2066.1 L1614.8 2068.7 L1617.8 2071.2 L1620.8 2073.7 L1623.8 2076.2 L1626.8 2078.6 L1629.8 2080.9 L1632.8 2083.2 L1635.8 2085.4 L1638.8 2087.6 L1641.8 2089.7 L1644.8 2091.8 L1647.8 2093.8 L1650.8 2095.7 L1653.8 2097.6 L1656.8 2099.5 L1659.8 2101.3 L1662.8 2103 L1665.8 2104.7 L1668.8 2106.3 L1671.8 2107.9 L1674.8 2109.4 L1677.8 2110.9 L1680.8 2112.3 L1683.8 2113.7 L1686.8 2115 L1689.8 2116.3 L1692.8 2117.5 L1695.8 2118.7 L1698.8 2119.9 L1701.8 2121 L1704.8 2122 L1707.8 2123.1 L1710.8 2124 L1713.8 2125 L1716.8 2125.8 L1719.8 2126.7 L1722.8 2127.5 L1725.8 2128.3 L1728.8 2129 L1731.8 2129.7 L1734.8 2130.4 L1737.8 2131.1 L1740.8 2131.7 L1743.8 2132.2 L1746.8 2132.8 L1749.8 2133.3 L1752.8 2133.8 L1755.8 2134.2 L1758.8 2134.7 L1761.8 2135.1 L1764.8 2135.4 L1767.8 2135.8 L1770.8 2136.1 L1773.8 2136.4 L1776.8 2136.7 L1779.8 2136.9 L1782.8 2137.2 L1785.8 2137.4 L1788.8 2137.6 L1791.8 2137.8 L1794.8 2137.9 L1797.8 2138.1 L1800.8 2138.2 L1803.8 2138.3 L1806.8 2138.4 L1809.8 2138.5 L1812.8 2138.5 L1815.8 2138.6 L1818.8 2138.7 L1821.8 2138.7 L1824.8 2138.7 L1827.8 2138.7 L1830.8 2138.8 L1833.8 2138.8 L1836.8 2138.8 L1837 2138.8" stroke="#00ff00" stroke-width="3.8"/>
<path d="M169 2695 L172 2694.9 L175 2694.9 L178 2694.9 L181 2694.9 L184 2694.9 L187 2694.9 L190 2694.8 L193 2694.8 L196 2694.8 L199 2694.8 L202 2694.8 L205 2694.8 L208 2694.7 L211 2694.7 L214 2694.7 L217 2694.7 L220 2694.7 L223 2694.6 L226 2694.6 L229 2694.6 L232 2694.6 L235 2694.6 L238 2694.6 L241 2694.5 L244 2694.5 L247 2694.5 L250 2694.5 L253 2694.5 L256 2694.4 L259 2694.4 L262 2694.4 L265 2694.4 L268 2694.4 L271 2694.4 L274 2694.3 L277 2694.3 L280 2694.3 L283 2694.3 L286 2694.3 L289 2694.2 L292 2694.2 L295 2694.2 L298 2694.2 L301 2694.2 L304 2694.1 L307 2694.1 L310 2694.1 L313 2694.1 L316 2694.1 L319 2694.1 L322 2694 L325 2694 L328 2694 L331 2694 L334 2694 L337 2693.9 L340 2693.9 L343 2693.9 L346 2693.9 L349 2693.9 L352 2693.9 L355 2693.8 L358 2693.8 L361 2693.8 L364 2693.8 L367 2693.8 L370 2693.7 L373 2693.7 L376 2693.7 L379 2693.7 L382 2693.7 L385 2693.6 L388 2693.6 L391 2693.6 L394 2693.6 L397 2693.6 L400 2693.5 L403 2693.5 L406 2693.5 L409 2693.5 L412 2693.5 L415 2693.5 L418 2693.4 L421 2693.4 L424 2693.4 L427 2693.4 L430 2693.4 L433 2693.3 L436 2693.3 L439 2693.3 L442 2693.3 L445 2693.3 L448 2693.2 L451 2693.2 L454 2693.2 L457 2693.2 L460 2693.2 L463 2693.1 L466 2693.1 L469 2693.1 L472 2693.1 L475 2693.1 L478 2693 L481 2693 L484 2693 L487 2693 L490 2693 L493 2693 L496 2692.9 L499 2692.9 L502 2692.9 L505 2692.9 L508 2692.9 L511 2692.8 L514 2692.8 L517 2692.8 L520 2692.8 L523 2692.8 L526 2692.7 L529 2692.7 L532 2692.7 L535 2692.7 L538 2692.7 L541 2692.6 L544 2692.6 L547 2692.6 L550 2692.6 L553 2692.6 L556 2692.5 L559 2692.5 L562 2692.5 L565 2692.5 L568 2692.5 L571 2692.4 L574 2692.4 L577 2692.4 L580 2692.4 L583 2692.4 L586 2692.3 L589 2692.3 L592 2692.3 L595 2692.3 L598 2692.3 L601 2692.2 L604 2692.2 L607 2692.2 L610 2692.2 L613 2692.2 L616 2692.1 L619 2692.1 L622 2692.1 L625 2692.1 L628 2692.1 L631 2692 L634 2692 L637 2692 L640 2692 L643 2692 L646 2691.9 L649 2691.9 L652 2691.9 L655 2691.9 L658 2691.9 L661 2691.9 L664 2691.8 L667 2691.8 L670 2691.8 L673 2691.8 L676 2691.8 L679 2691.7 L682 2691.7 L685 2691.7 L688 2691.7 L691 2691.7 L694 2691.6 L697 2691.6 L700 2691.6 L703 2691.6 L706 2691.6 L709 2691.5 L712 2691.5 L715 2691.5 L718 2691.5 L721 2691.5 L724 2691.4 L727 2691.4 L730 2691.4 L733 2691.4 L736 2691.4 L739 2691.3 L742 2691.3 L745 2691.3 L748 2691.3 L751 2691.3 L754 2691.2 L757 2691.2 L760 2691.2 L763 2691.2 L766 2691.2 L769 2691.1 L772 2691.1 L775 2691.1 L778 2691.1 L781 2691.1 L784 2691 L787 2691 L790 2691 L793 2691 L796 2691 L799 2690.9 L802 2690.9 L805 2690.9 L808 2690.9 L811 2690.9 L814 2690.8 L817 2690.8 L820 2690.8 L823 2690.8 L826 2690.8 L829 2690.7 L832 2690.7 L835 2690.7 L838 2690.7 L841 2690.7 L844 2690.6 L847 2690.6 L850 2690.6 L853 2690.6 L856 2690.6 L859 2690.5 L862 2690.5 L865 2690.5 L868 2690.5 L871 2690.5 L874 2690.4 L877 2690.4 L880 2690.4 L883 2690.4 L886 2690.4 L889 2690.3 L892 2690.3 L895 2690.3 L898 2690.3 L901 2690.3 L904 2690.2 L907 2690.2 L910 2690.2 L913 2690.2 L916 2690.2 L919 2690.2 L922 2690.1 L925 2690.1 L928 2690.1 L931 2690.1 L934 2690.1 L937 2690 L940 2690 L943 2690 L946 2690 L949 2690 L952 2689.9 L955 2689.9 L958 2689.9 L961 2689.9 L964 2689.9 L967 2689.8 L970 2689.8 L973 2689.8 L976 2689.8 L979 2689.8 L982 2689.7 L985 2689.7 L988 2689.7 L991 2689.7 L994 2689.6 L997 2689.6 L1000 2689.6 L1003 2689.5 L1006 2689.5 L1009 2689.5 L1012 2689.4 L1015 2689.4 L1018 2689.3 L1021 2689.3 L1024 2689.2 L1027 2689.2 L1030 2689.1 L1033 2689 L1036 2688.9 L1039 2688.9 L1042 2688.8 L1045 2688.7 L1048 2688.6 L1051 2688.5 L1054 2688.4 L1057 2688.2 L1060 2688.1 L1063 2688 L1066 2687.8 L1069 2687.7 L1072 2687.5 L1075 2687.4 L1078 2687.2 L1081 2687 L1084 2686.8 L1087 2686.6 L1090 2686.4 L1093 2686.2 L1096 2686 L1099 2685.8 L1102 2685.5 L1105 2685.2 L1108 2685 L1111 2684.7 L1114 2684.4 L1117 2684.1 L1120 2683.8 L1123 2683.5 L1126 2683.1 L1129 2682.8 L1132 2682.4 L1135 2682.1 L1138 2681.7 L1141 2681.3 L1144 2680.9 L1147 2680.4 L1150 2680 L1153 2679.5 L1156 2679.1 L1159 2678.6 L1162 2678.1 L1165 2677.6 L1168 2677.1 L1171 2676.5 L1174 2676 L1177 2675.4 L1180 2674.8 L1183 2674.2 L1186 2673.6 L1189 2672.9 L1192 2672.2 L1195 2671.5 L1198 2670.8 L1201 2670 L1204 2669.2 L1207 2668.3 L1210 2667.5 L1213 2666.5 L1216 2665.5 L1219 2664.5 L1222 2663.4 L1225 2662.3 L1228 2661.1 L1231 2659.8 L1234 2658.5 L1237 2657.1 L1240 2655.7 L1243 2654.1 L1246 2652.5 L1249 2650.9 L1252 2649.2 L1255 2647.3 L1258 2645.5 L1261 2643.5 L1264 2641.4 L1267 2639.3 L1270 2637.1 L1273 2634.8 L1276 2632.4 L1279 2629.9 L1282 2627.4 L1285 2624.7 L1288 2622 L1291 2619.2 L1294 2616.3 L1297 2613.3 L1300 2610.3 L1303 2607.2 L1306 2604.1 L1309 2600.8 L1312 2597.6 L1315 2594.3 L1318 2590.9 L1321 2587.5 L1324 2584.1 L1327 2580.6 L1330 2577.1 L1333 2573.5 L1336 2570 L1339 2566.4 L1342 2562.8 L1345 2559.2 L1348 2555.5 L1351 2551.9 L1354 2548.2 L1357 2544.6 L1360 2540.9 L1363 2537.3 L1366 2533.6 L1369 2530 L1372 2526.4 L1375 2522.8 L1378 2519.3 L1381 2515.7 L1384 2512.2 L1387 2508.7 L1390 2505.3 L1393 2501.9 L1396 2498.6 L1399 2495.3 L1402 2492.1 L1405 2488.9 L1408 2485.9 L1411 2482.9 L1414 2480.1 L1417 2477.3 L1420 2474.7 L1423 2472.1 L1426 2469.7 L1429 2467.5 L1432 2465.4 L1435 2463.4 L1438 2461.6 L1441 2460 L1444 2458.6 L1447 2457.3 L1450 2456.2 L1453 2455.3 L1456 2454.7 L1459 2454.2 L1462 2453.9 L1465 2453.8 L1468 2453.9 L1471 2454.2 L1474 2454.6 L1477 2455.3 L1480 2456.1 L1483 2457.1 L1486 2458.2 L1489 2459.6 L1492 2461.1 L1495 2462.7 L1498 2464.6 L1501 2466.6 L1504 2468.7 L1507 2471 L1510 2473.5 L1513 2476 L1516 2478.8 L1519 2481.6 L1522 2484.6 L1525 2487.7 L1528 2490.9 L1531 2494.2 L1534 2497.6 L1537 2501.1 L1540 2504.7 L1543 2508.3 L1546 2512 L1549 2515.8 L1552 2519.6 L1555 2523.5 L1558 2527.4 L1561 2531.4 L1564 2535.3 L1567 2539.3 L1570 2543.3 L1573 2547.3 L1576 2551.3 L1579 2555.3 L1582 2559.2 L1585 2563.2 L1588 2567.1 L1591 2571 L1594 2574.8 L1597 2578.6 L1600 2582.3 L1603 2585.9 L1606 2589.5 L1609 2593 L1612 2596.4 L1615 2599.8 L1618 2603 L1621 2606.2 L1624 2609.2 L1627 2612.2 L1630 2615.2 L1633 2618 L1636 2620.8 L1639 2623.4 L1642 2626 L1645 2628.6 L1648 2631 L1651 2633.4 L1654 2635.7 L1657 2638 L1660 2640.1 L1663 2642.2 L1666 2644.3 L1669 2646.2 L1672 2648.1 L1675 2650 L1678 2651.8 L1681 2653.5 L1684 2655.1 L1687 2656.7 L1690 2658.2 L1693 2659.7 L1696 2661.1 L1699 2662.5 L1702 2663.8 L1705 2665 L1708 2666.2 L1711 2667.4 L1714 2668.5 L1717 2669.5 L1720 2670.5 L1723 2671.5 L1726 2672.4 L1729 2673.2 L1732 2674 L1735 2674.8 L1738 2675.5 L1741 2676.2 L1744 2676.8 L1747 2677.4 L1750 2678 L1753 2678.5 L1756 2679 L1759 2679.5 L1762 2679.9 L1765 2680.3 L1768 2680.6 L1771 2680.9 L1774 2681.2 L1777 2681.5 L1780 2681.7 L1783 2681.9 L1786 2682.1 L1789 2682.2 L1792 2682.4 L1795 2682.5 L1798 2682.6 L1801 2682.6 L1804 2682.7 L1807 2682.7 L1810 2682.7 L1813 2682.7 L1816 2682.6 L1819 2682.6 L1822 2682.6 L1825 2682.5 L1828 2682.4 L1831 2682.3 L1834 2682.2 L1837 2682.1" stroke="#0000ff" stroke-width="3.5"/>
<path d="M169 2695.8 L172 2695.1 L175 2694.5 L178 2693.9 L181 2693.3 L184 2692.8 L187 2692.3 L190 2691.8 L193 2691.4 L196 2690.9 L199 2690.5 L202 2690.1 L205 2689.6 L208 2689.2 L211 2688.8 L214 2688.3 L217 2687.9 L220 2687.5 L223 2687 L226 2686.5 L229 2686 L232 2685.4 L235 2684.9 L238 2684.2 L241 2683.6 L244 2682.9 L247 2682.2 L250 2681.4 L253 2680.6 L256 2679.7 L259 2678.7 L262 2677.7 L265 2676.6 L268 2675.5 L271 2674.3 L274 2673 L277 2671.6 L280 2670.2 L283 2668.6 L286 2667 L289 2665.2 L292 2663.4 L295 2661.5 L298 2659.4 L301 2657.3 L304 2655.1 L307 2652.7 L310 2650.3 L313 2647.7 L316 2645 L319 2642.2 L322 2639.3 L325 2636.3 L328 2633.1 L331 2629.9 L334 2626.5 L337 2623 L340 2619.3 L343 2615.5 L346 2611.6 L349 2607.6 L352 2603.4 L355 2599.1 L358 2594.6 L361 2590 L364 2585.3 L367 2580.4 L370 2575.3 L373 2570.2 L376 2564.8 L379 2559.3 L382 2553.7 L385 2547.9 L388 2541.9 L391 2535.8 L394 2529.5 L397 2523.1 L400 2516.5 L403 2509.8 L406 2502.9 L409 2495.9 L412 2488.9 L415 2481.7 L418 2474.5 L421 2467.2 L424 2459.8 L427 2452.5 L430 2445.1 L433 2437.6 L436 2430.2 L439 2422.9 L442 2415.5 L445 2408.2 L448 2400.9 L451 2393.7 L454 2386.6 L457 2379.6 L460 2372.7 L463 2365.9 L466 2359.3 L469 2352.8 L472 2346.4 L475 2340.2 L478 2334.3 L481 2328.5 L484 2322.9 L487 2317.5 L490 2312.4 L493 2307.5 L496 2302.9 L499 2298.6 L502 2294.6 L505 2290.8 L508 2287.4 L511 2284.3 L514 2281.5 L517 2279.1 L520 2277.1 L523 2275.4 L526 2274.1 L529 2273 L532 2272.4 L535 2272 L538 2272 L541 2272.2 L544 2272.8 L547 2273.7 L550 2274.8 L553 2276.3 L556 2278 L559 2279.9 L562 2282.2 L565 2284.7 L568 2287.4 L571 2290.4 L574 2293.6 L577 2297 L580 2300.6 L583 2304.5 L586 2308.6 L589 2312.8 L592 2317.3 L595 2321.9 L598 2326.7 L601 2331.7 L604 2336.8 L607 2342.1 L610 2347.5 L613 2353.1 L616 2358.8 L619 2364.7 L622 2370.6 L625 2376.7 L628 2382.9 L631 2389.1 L634 2395.5 L637 2401.9 L640 2408.4 L643 2414.9 L646 2421.5 L649 2428.1 L652 2434.8 L655 2441.5 L658 2448.2 L661 2454.9 L664 2461.5 L667 2468.2 L670 2474.9 L673 2481.5 L676 2488 L679 2494.5 L682 2501 L685 2507.4 L688 2513.7 L691 2519.9 L694 2526.1 L697 2532.1 L700 2538.1 L703 2544 L706 2549.8 L709 2555.4 L712 2561 L715 2566.4 L718 2571.7 L721 2576.9 L724 2582 L727 2586.9 L730 2591.7 L733 2596.4 L736 2600.9 L739 2605.2 L742 2609.4 L745 2613.5 L748 2617.3 L751 2621 L754 2624.6 L757 2627.9 L760 2631.2 L763 2634.2 L766 2637.1 L769 2639.9 L772 2642.6 L775 2645.1 L778 2647.5 L781 2649.7 L784 2651.9 L787 2653.9 L790 2655.8 L793 2657.6 L796 2659.3 L799 2661 L802 2662.5 L805 2663.9 L808 2665.3 L811 2666.5 L814 2667.7 L817 2668.8 L820 2669.9 L823 2670.9 L826 2671.8 L829 2672.7 L832 2673.6 L835 2674.4 L838 2675.1 L841 2675.8 L844 2676.5 L847 2677.2 L850 2677.9 L853 2678.5 L856 2679.1 L859 2679.7 L862 2680.2 L865 2680.8 L868 2681.3 L871 2681.8 L874 2682.3 L877 2682.7 L880 2683.2 L883 2683.6 L886 2684 L889 2684.4 L892 2684.8 L895 2685.1 L898 2685.5 L901 2685.8 L904 2686.1 L907 2686.4 L910 2686.7 L913 2686.9 L916 2687.2 L919 2687.4 L922 2687.6 L925 2687.8 L928 2688 L931 2688.2 L934 2688.4 L937 2688.5 L940 2688.7 L943 2688.8 L946 2688.9 L949 2689 L952 2689.1 L955 2689.2 L958 2689.3 L961 2689.4 L964 2689.5 L967 2689.5 L970 2689.6 L973 2689.6 L976 2689.6 L979 2689.7 L982 2689.7 L985 2689.7 L988 2689.7 L991 2689.7 L994 2689.7 L997 2689.7 L1000 2689.7 L1003 2689.7 L1006 2689.6 L1009 2689.6 L1012 2689.6 L1015 2689.6 L1018 2689.5 L1021 2689.5 L1024 2689.5 L1027 2689.4 L1030 2689.4 L1033 2689.3 L1036 2689.3 L1039 2689.3 L1042 2689.2 L1045 2689.2 L1048 2689.1 L1051 2689.1 L1054 2689.1 L1057 2689 L1060 2689 L1063 2688.9 L1066 2688.9 L1069 2688.9 L1072 2688.8 L1075 2688.8 L1078 2688.8 L1081 2688.7 L1084 2688.7 L1087 2688.7 L1090 2688.6 L1093 2688.6 L1096 2688.6 L1099 2688.5 L1102 2688.5 L1105 2688.5 L1108 2688.4 L1111 2688.4 L1114 2688.4 L1117 2688.3 L1120 2688.3 L1123 2688.3 L1126 2688.3 L1129 2688.2 L1132 2688.2 L1135 2688.2 L1138 2688.1 L1141 2688.1 L1144 2688.1 L1147 2688.1 L1150 2688 L1153 2688 L1156 2688 L1159 2688 L1162 2687.9 L1165 2687.9 L1168 2687.9 L1171 2687.9 L1174 2687.8 L1177 2687.8 L1180 2687.8 L1183 2687.8 L1186 2687.7 L1189 2687.7 L1192 2687.7 L1195 2687.7 L1198 2687.7 L1201 2687.6 L1204 2687.6 L1207 2687.6 L1210 2687.6 L1213 2687.6 L1216 2687.5 L1219 2687.5 L1222 2687.5 L1225 2687.5 L1228 2687.5 L1231 2687.4 L1234 2687.4 L1237 2687.4 L1240 2687.4 L1243 2687.4 L1246 2687.4 L1249 2687.3 L1252 2687.3 L1255 2687.3 L1258 2687.3 L1261 2687.3 L1264 2687.3 L1267 2687.2 L1270 2687.2 L1273 2687.2 L1276 2687.2 L1279 2687.2 L1282 2687.2 L1285 2687.2 L1288 2687.1 L1291 2687.1 L1294 2687.1 L1297 2687.1 L1300 2687.1 L1303 2687.1 L1306 2687.1 L1309 2687 L1312 2687 L1315 2687 L1318 2687 L1321 2687 L1324 2687 L1327 2687 L1330 2687 L1333 2686.9 L1336 2686.9 L1339 2686.9 L1342 2686.9 L1345 2686.9 L1348 2686.9 L1351 2686.9 L1354 2686.9 L1357 2686.9 L1360 2686.8 L1363 2686.8 L1366 2686.8 L1369 2686.8 L1372 2686.8 L1375 2686.8 L1378 2686.8 L1381 2686.8 L1384 2686.8 L1387 2686.7 L1390 2686.7 L1393 2686.7 L1396 2686.7 L1399 2686.7 L1402 2686.7 L1405 2686.7 L1408 2686.7 L1411 2686.7 L1414 2686.7 L1417 2686.7 L1420 2686.6 L1423 2686.6 L1426 2686.6 L1429 2686.6 L1432 2686.6 L1435 2686.6 L1438 2686.6 L1441 2686.6 L1444 2686.6 L1447 2686.6 L1450 2686.5 L1453 2686.5 L1456 2686.5 L1459 2686.5 L1462 2686.5 L1465 2686.5 L1468 2686.5 L1471 2686.5 L1474 2686.5 L1477 2686.5 L1480 2686.5 L1483 2686.4 L1486 2686.4 L1489 2686.4 L1492 2686.4 L1495 2686.4 L1498 2686.4 L1501 2686.4 L1504 2686.4 L1507 2686.4 L1510 2686.4 L1513 2686.3 L1516 2686.3 L1519 2686.3 L1522 2686.3 L1525 2686.3 L1528 2686.3 L1531 2686.3 L1534 2686.3 L1537 2686.3 L1540 2686.2 L1543 2686.2 L1546 2686.2 L1549 2686.2 L1552 2686.2 L1555 2686.2 L1558 2686.2 L1561 2686.2 L1564 2686.2 L1567 2686.1 L1570 2686.1 L1573 2686.1 L1576 2686.1 L1579 2686.1 L1582 2686.1 L1585 2686.1 L1588 2686.1 L1591 2686 L1594 2686 L1597 2686 L1600 2686 L1603 2686 L1606 2686 L1609 2686 L1612 2685.9 L1615 2685.9 L1618 2685.9 L1621 2685.9 L1624 2685.9 L1627 2685.9 L1630 2685.8 L1633 2685.8 L1636 2685.8 L1639 2685.8 L1642 2685.8 L1645 2685.8 L1648 2685.7 L1651 2685.7 L1654 2685.7 L1657 2685.7 L1660 2685.7 L1663 2685.7 L1666 2685.6 L1669 2685.6 L1672 2685.6 L1675 2685.6 L1678 2685.6 L1681 2685.5 L1684 2685.5 L1687 2685.5 L1690 2685.5 L1693 2685.5 L1696 2685.4 L1699 2685.4 L1702 2685.4 L1705 2685.4 L1708 2685.4 L1711 2685.3 L1714 2685.3 L1717 2685.3 L1720 2685.3 L1723 2685.2 L1726 2685.2 L1729 2685.2 L1732 2685.2 L1735 2685.1 L1738 2685.1 L1741 2685.1 L1744 2685.1 L1747 2685 L1750 2685 L1753 2685 L1756 2685 L1759 2684.9 L1762 2684.9 L1765 2684.9 L1768 2684.8 L1771 2684.8 L1774 2684.8 L1777 2684.7 L1780 2684.7 L1783 2684.7 L1786 2684.7 L1789 2684.6 L1792 2684.6 L1795 2684.6 L1798 2684.5 L1801 2684.5 L1804 2684.5 L1807 2684.4 L1810 2684.4 L1813 2684.4 L1816 2684.3 L1819 2684.3 L1822 2684.2 L1825 2684.2 L1828 2684.2 L1831 2684.1 L1834 2684.1 L1837 2684.1" stroke="#00ffff" stroke-width="3.5"/>
<path d="M169 2698.9 L172 2698.5 L175 2698.2 L178 2697.8 L181 2697.5 L184 2697.2 L187 2696.9 L190 2696.6 L193 2696.3 L196 2696.1 L199 2695.8 L202 2695.6 L205 2695.4 L208 2695.2 L211 2695 L214 2694.8 L217 2694.6 L220 2694.5 L223 2694.3 L226 2694.2 L229 2694.1 L232 2694 L235 2693.8 L238 2693.7 L241 2693.7 L244 2693.6 L247 2693.5 L250 2693.4 L253 2693.4 L256 2693.3 L259 2693.3 L262 2693.2 L265 2693.2 L268 2693.2 L271 2693.1 L274 2693.1 L277 2693.1 L280 2693.1 L283 2693.1 L286 2693.1 L289 2693.1 L292 2693.1 L295 2693.1 L298 2693.1 L301 2693.1 L304 2693.1 L307 2693.2 L310 2693.2 L313 2693.2 L316 2693.2 L319 2693.2 L322 2693.2 L325 2693.2 L328 2693.2 L331 2693.3 L334 2693.3 L337 2693.3 L340 2693.3 L343 2693.3 L346 2693.3 L349 2693.3 L352 2693.3 L355 2693.2 L358 2693.2 L361 2693.2 L364 2693.2 L367 2693.1 L370 2693.1 L373 2693 L376 2693 L379 2692.9 L382 2692.9 L385 2692.8 L388 2692.7 L391 2692.6 L394 2692.5 L397 2692.4 L400 2692.3 L403 2692.2 L406 2692 L409 2691.9 L412 2691.7 L415 2691.6 L418 2691.4 L421 2691.3 L424 2691.1 L427 2690.9 L430 2690.7 L433 2690.5 L436 2690.3 L439 2690.1 L442 2689.9 L445 2689.7 L448 2689.5 L451 2689.3 L454 2689.1 L457 2688.8 L460 2688.6 L463 2688.4 L466 2688.1 L469 2687.9 L472 2687.6 L475 2687.4 L478 2687.1 L481 2686.9 L484 2686.6 L487 2686.4 L490 2686.1 L493 2685.8 L496 2685.6 L499 2685.3 L502 2685 L505 2684.8 L508 2684.5 L511 2684.2 L514 2684 L517 2683.7 L520 2683.4 L523 2683.2 L526 2682.9 L529 2682.6 L532 2682.3 L535 2682.1 L538 2681.8 L541 2681.5 L544 2681.3 L547 2681 L550 2680.8 L553 2680.5 L556 2680.3 L559 2680 L562 2679.7 L565 2679.5 L568 2679.3 L571 2679 L574 2678.8 L577 2678.5 L580 2678.3 L583 2678.1 L586 2677.9 L589 2677.7 L592 2677.4 L595 2677.2 L598 2677 L601 2676.8 L604 2676.6 L607 2676.5 L610 2676.3 L613 2676.1 L616 2675.9 L619 2675.8 L622 2675.6 L625 2675.5 L628 2675.3 L631 2675.2 L634 2675.1 L637 2675 L640 2674.9 L643 2674.8 L646 2674.7 L649 2674.6 L652 2674.5 L655 2674.4 L658 2674.4 L661 2674.3 L664 2674.3 L667 2674.2 L670 2674.2 L673 2674.2 L676 2674.2 L679 2674.2 L682 2674.2 L685 2674.2 L688 2674.3 L691 2674.3 L694 2674.4 L697 2674.4 L700 2674.5 L703 2674.6 L706 2674.7 L709 2674.8 L712 2675 L715 2675.1 L718 2675.3 L721 2675.4 L724 2675.6 L727 2675.8 L730 2676 L733 2676.2 L736 2676.4 L739 2676.6 L742 2676.8 L745 2677.1 L748 2677.3 L751 2677.6 L754 2677.8 L757 2678.1 L760 2678.4 L763 2678.6 L766 2678.9 L769 2679.2 L772 2679.5 L775 2679.7 L778 2680 L781 2680.3 L784 2680.6 L787 2680.9 L790 2681.2 L793 2681.4 L796 2681.7 L799 2682 L802 2682.3 L805 2682.5 L808 2682.8 L811 2683.1 L814 2683.3 L817 2683.6 L820 2683.8 L823 2684 L826 2684.3 L829 2684.5 L832 2684.7 L835 2684.9 L838 2685.1 L841 2685.3 L844 2685.5 L847 2685.7 L850 2685.9 L853 2686 L856 2686.2 L859 2686.3 L862 2686.5 L865 2686.6 L868 2686.8 L871 2686.9 L874 2687.1 L877 2687.2 L880 2687.3 L883 2687.4 L886 2687.5 L889 2687.6 L892 2687.7 L895 2687.8 L898 2687.9 L901 2688 L904 2688.1 L907 2688.2 L910 2688.2 L913 2688.3 L916 2688.4 L919 2688.4 L922 2688.5 L925 2688.5 L928 2688.6 L931 2688.6 L934 2688.7 L937 2688.7 L940 2688.8 L943 2688.8 L946 2688.8 L949 2688.9 L952 2688.9 L955 2688.9 L958 2688.9 L961 2689 L964 2689 L967 2689 L970 2689 L973 2689 L976 2689 L979 2689 L982 2689 L985 2689 L988 2689 L991 2689 L994 2689 L997 2689 L1000 2689 L1003 2689 L1006 2689 L1009 2689 L1012 2689 L1015 2689 L1018 2689 L1021 2689 L1024 2689 L1027 2689 L1030 2689 L1033 2689 L1036 2689 L1039 2689 L1042 2689 L1045 2689 L1048 2689 L1051 2689 L1054 2689 L1057 2689 L1060 2689 L1063 2689 L1066 2689 L1069 2688.9 L1072 2688.9 L1075 2688.9 L1078 2688.9 L1081 2688.9 L1084 2688.9 L1087 2688.9 L1090 2688.9 L1093 2688.9 L1096 2688.9 L1099 2688.9 L1102 2688.9 L1105 2688.9 L1108 2688.9 L1111 2688.9 L1114 2688.9 L1117 2688.9 L1120 2688.9 L1123 2688.9 L1126 2688.9 L1129 2688.9 L1132 2688.9 L1135 2688.9 L1138 2688.9 L1141 2688.9 L1144 2688.9 L1147 2688.9 L1150 2688.9 L1153 2688.9 L1156 2688.9 L1159 2688.9 L1162 2688.9 L1165 2688.9 L1168 2688.9 L1171 2688.9 L1174 2688.9 L1177 2688.9 L1180 2688.8 L1183 2688.8 L1186 2688.8 L1189 2688.8 L1192 2688.8 L1195 2688.8 L1198 2688.8 L1201 2688.8 L1204 2688.8 L1207 2688.8 L1210 2688.8 L1213 2688.8 L1216 2688.8 L1219 2688.8 L1222 2688.8 L1225 2688.8 L1228 2688.8 L1231 2688.8 L1234 2688.8 L1237 2688.8 L1240 2688.8 L1243 2688.8 L1246 2688.8 L1249 2688.8 L1252 2688.8 L1255 2688.8 L1258 2688.8 L1261 2688.8 L1264 2688.8 L1267 2688.8 L1270 2688.8 L1273 2688.8 L1276 2688.8 L1279 2688.7 L1282 2688.7 L1285 2688.7 L1288 2688.7 L1291 2688.7 L1294 2688.7 L1297 2688.7 L1300 2688.7 L1303 2688.7 L1306 2688.7 L1309 2688.7 L1312 2688.7 L1315 2688.7 L1318 2688.7 L1321 2688.7 L1324 2688.7 L1327 2688.7 L1330 2688.7 L1333 2688.7 L1336 2688.6 L1339 2688.6 L1342 2688.6 L1345 2688.6 L1348 2688.6 L1351 2688.6 L1354 2688.6 L1357 2688.6 L1360 2688.6 L1363 2688.6 L1366 2688.6 L1369 2688.6 L1372 2688.5 L1375 2688.5 L1378 2688.5 L1381 2688.5 L1384 2688.5 L1387 2688.5 L1390 2688.5 L1393 2688.5 L1396 2688.5 L1399 2688.5 L1402 2688.4 L1405 2688.4 L1408 2688.4 L1411 2688.4 L1414 2688.4 L1417 2688.4 L1420 2688.4 L1423 2688.4 L1426 2688.3 L1429 2688.3 L1432 2688.3 L1435 2688.3 L1438 2688.3 L1441 2688.3 L1444 2688.3 L1447 2688.2 L1450 2688.2 L1453 2688.2 L1456 2688.2 L1459 2688.2 L1462 2688.2 L1465 2688.2 L1468 2688.1 L1471 2688.1 L1474 2688.1 L1477 2688.1 L1480 2688.1 L1483 2688 L1486 2688 L1489 2688 L1492 2688 L1495 2688 L1498 2687.9 L1501 2687.9 L1504 2687.9 L1507 2687.9 L1510 2687.9 L1513 2687.8 L1516 2687.8 L1519 2687.8 L1522 2687.8 L1525 2687.8 L1528 2687.7 L1531 2687.7 L1534 2687.7 L1537 2687.7 L1540 2687.6 L1543 2687.6 L1546 2687.6 L1549 2687.6 L1552 2687.5 L1555 2687.5 L1558 2687.5 L1561 2687.4 L1564 2687.4 L1567 2687.4 L1570 2687.4 L1573 2687.3 L1576 2687.3 L1579 2687.3 L1582 2687.2 L1585 2687.2 L1588 2687.2 L1591 2687.2 L1594 2687.1 L1597 2687.1 L1600 2687.1 L1603 2687 L1606 2687 L1609 2687 L1612 2686.9 L1615 2686.9 L1618 2686.9 L1621 2686.8 L1624 2686.8 L1627 2686.7 L1630 2686.7 L1633 2686.7 L1636 2686.6 L1639 2686.6 L1642 2686.6 L1645 2686.5 L1648 2686.5 L1651 2686.4 L1654 2686.4 L1657 2686.4 L1660 2686.3 L1663 2686.3 L1666 2686.2 L1669 2686.2 L1672 2686.1 L1675 2686.1 L1678 2686 L1681 2686 L1684 2686 L1687 2685.9 L1690 2685.9 L1693 2685.8 L1696 2685.8 L1699 2685.7 L1702 2685.7 L1705 2685.6 L1708 2685.6 L1711 2685.5 L1714 2685.5 L1717 2685.4 L1720 2685.4 L1723 2685.3 L1726 2685.3 L1729 2685.2 L1732 2685.2 L1735 2685.1 L1738 2685 L1741 2685 L1744 2684.9 L1747 2684.9 L1750 2684.8 L1753 2684.8 L1756 2684.7 L1759 2684.6 L1762 2684.6 L1765 2684.5 L1768 2684.5 L1771 2684.4 L1774 2684.3 L1777 2684.3 L1780 2684.2 L1783 2684.1 L1786 2684.1 L1789 2684 L1792 2684 L1795 2683.9 L1798 2683.8 L1801 2683.8 L1804 2683.7 L1807 2683.6 L1810 2683.5 L1813 2683.5 L1816 2683.4 L1819 2683.3 L1822 2683.3 L1825 2683.2 L1828 2683.1 L1831 2683 L1834 2683 L1837 2682.9" stroke="#8000ff" stroke-width="4.3"/>
<path d="M169 2694.9 L172 2694.9 L175 2694.8 L178 2694.8 L181 2694.8 L184 2694.8 L187 2694.7 L190 2694.7 L193 2694.7 L196 2694.7 L199 2694.6 L202 2694.6 L205 2694.6 L208 2694.6 L211 2694.5 L214 2694.5 L217 2694.5 L220 2694.5 L223 2694.4 L226 2694.4 L229 2694.4 L232 2694.4 L235 2694.3 L238 2694.3 L241 2694.3 L244 2694.2 L247 2694.2 L250 2694.2 L253 2694.2 L256 2694.1 L259 2694.1 L262 2694.1 L265 2694 L268 2694 L271 2694 L274 2693.9 L277 2693.9 L280 2693.9 L283 2693.8 L286 2693.8 L289 2693.8 L292 2693.7 L295 2693.7 L298 2693.7 L301 2693.6 L304 2693.6 L307 2693.6 L310 2693.5 L313 2693.5 L316 2693.5 L319 2693.4 L322 2693.4 L325 2693.4 L328 2693.3 L331 2693.3 L334 2693.3 L337 2693.2 L340 2693.2 L343 2693.2 L346 2693.1 L349 2693.1 L352 2693.1 L355 2693 L358 2693 L361 2692.9 L364 2692.9 L367 2692.9 L370 2692.8 L373 2692.8 L376 2692.8 L379 2692.7 L382 2692.7 L385 2692.7 L388 2692.6 L391 2692.6 L394 2692.5 L397 2692.5 L400 2692.5 L403 2692.4 L406 2692.4 L409 2692.4 L412 2692.3 L415 2692.3 L418 2692.2 L421 2692.2 L424 2692.2 L427 2692.1 L430 2692.1 L433 2692.1 L436 2692 L439 2692 L442 2691.9 L445 2691.9 L448 2691.9 L451 2691.8 L454 2691.8 L457 2691.8 L460 2691.7 L463 2691.7 L466 2691.6 L469 2691.6 L472 2691.6 L475 2691.5 L478 2691.5 L481 2691.5 L484 2691.4 L487 2691.4 L490 2691.3 L493 2691.3 L496 2691.3 L499 2691.2 L502 2691.2 L505 2691.2 L508 2691.1 L511 2691.1 L514 2691.1 L517 2691 L520 2691 L523 2690.9 L526 2690.9 L529 2690.9 L532 2690.8 L535 2690.8 L538 2690.8 L541 2690.7 L544 2690.7 L547 2690.7 L550 2690.6 L553 2690.6 L556 2690.5 L559 2690.5 L562 2690.5 L565 2690.4 L568 2690.4 L571 2690.4 L574 2690.3 L577 2690.3 L580 2690.3 L583 2690.2 L586 2690.2 L589 2690.2 L592 2690.1 L595 2690.1 L598 2690.1 L601 2690 L604 2690 L607 2690 L610 2689.9 L613 2689.9 L616 2689.9 L619 2689.9 L622 2689.8 L625 2689.8 L628 2689.8 L631 2689.7 L634 2689.7 L637 2689.7 L640 2689.6 L643 2689.6 L646 2689.6 L649 2689.6 L652 2689.5 L655 2689.5 L658 2689.5 L661 2689.5 L664 2689.4 L667 2689.4 L670 2689.4 L673 2689.4 L676 2689.3 L679 2689.3 L682 2689.3 L685 2689.3 L688 2689.3 L691 2689.2 L694 2689.2 L697 2689.2 L700 2689.2 L703 2689.2 L706 2689.1 L709 2689.1 L712 2689.1 L715 2689.1 L718 2689.1 L721 2689.1 L724 2689 L727 2689 L730 2689 L733 2689 L736 2689 L739 2689 L742 2689 L745 2689 L748 2689 L751 2689 L754 2689 L757 2689 L760 2689 L763 2688.9 L766 2688.9 L769 2688.9 L772 2688.9 L775 2688.9 L778 2688.9 L781 2689 L784 2689 L787 2689 L790 2689 L793 2689 L796 2689 L799 2689 L802 2689 L805 2689 L808 2689 L811 2689 L814 2689 L817 2689 L820 2689 L823 2689 L826 2689 L829 2689 L832 2688.9 L835 2688.9 L838 2688.9 L841 2688.9 L844 2688.8 L847 2688.8 L850 2688.8 L853 2688.7 L856 2688.6 L859 2688.6 L862 2688.5 L865 2688.4 L868 2688.4 L871 2688.3 L874 2688.2 L877 2688.1 L880 2687.9 L883 2687.8 L886 2687.7 L889 2687.5 L892 2687.4 L895 2687.2 L898 2687 L901 2686.8 L904 2686.6 L907 2686.4 L910 2686.2 L913 2686 L916 2685.7 L919 2685.5 L922 2685.2 L925 2684.9 L928 2684.6 L931 2684.3 L934 2684 L937 2683.6 L940 2683.3 L943 2682.9 L946 2682.5 L949 2682.1 L952 2681.7 L955 2681.2 L958 2680.8 L961 2680.3 L964 2679.8 L967 2679.3 L970 2678.8 L973 2678.2 L976 2677.7 L979 2677.1 L982 2676.5 L985 2675.8 L988 2675.2 L991 2674.5 L994 2673.9 L997 2673.1 L1000 2672.4 L1003 2671.7 L1006 2670.9 L1009 2670.1 L1012 2669.3 L1015 2668.5 L1018 2667.6 L1021 2666.8 L1024 2665.9 L1027 2665 L1030 2664.1 L1033 2663.2 L1036 2662.3 L1039 2661.3 L1042 2660.4 L1045 2659.4 L1048 2658.5 L1051 2657.5 L1054 2656.6 L1057 2655.6 L1060 2654.6 L1063 2653.6 L1066 2652.7 L1069 2651.7 L1072 2650.7 L1075 2649.7 L1078 2648.8 L1081 2647.8 L1084 2646.8 L1087 2645.9 L1090 2644.9 L1093 2644 L1096 2643.1 L1099 2642.2 L1102 2641.3 L1105 2640.4 L1108 2639.5 L1111 2638.6 L1114 2637.8 L1117 2636.9 L1120 2636.1 L1123 2635.3 L1126 2634.5 L1129 2633.8 L1132 2633 L1135 2632.3 L1138 2631.6 L1141 2630.9 L1144 2630.3 L1147 2629.7 L1150 2629.1 L1153 2628.5 L1156 2628 L1159 2627.5 L1162 2627 L1165 2626.6 L1168 2626.2 L1171 2625.8 L1174 2625.5 L1177 2625.2 L1180 2624.9 L1183 2624.7 L1186 2624.5 L1189 2624.3 L1192 2624.2 L1195 2624.2 L1198 2624.2 L1201 2624.2 L1204 2624.3 L1207 2624.4 L1210 2624.5 L1213 2624.8 L1216 2625 L1219 2625.3 L1222 2625.7 L1225 2626.1 L1228 2626.6 L1231 2627.1 L1234 2627.6 L1237 2628.2 L1240 2628.9 L1243 2629.6 L1246 2630.3 L1249 2631 L1252 2631.8 L1255 2632.6 L1258 2633.4 L1261 2634.3 L1264 2635.2 L1267 2636.1 L1270 2637 L1273 2638 L1276 2638.9 L1279 2639.9 L1282 2640.9 L1285 2641.9 L1288 2642.9 L1291 2644 L1294 2645 L1297 2646 L1300 2647 L1303 2648.1 L1306 2649.1 L1309 2650.1 L1312 2651.1 L1315 2652.1 L1318 2653.1 L1321 2654.1 L1324 2655.1 L1327 2656 L1330 2656.9 L1333 2657.8 L1336 2658.7 L1339 2659.6 L1342 2660.4 L1345 2661.3 L1348 2662.1 L1351 2662.9 L1354 2663.7 L1357 2664.4 L1360 2665.2 L1363 2665.9 L1366 2666.6 L1369 2667.3 L1372 2668 L1375 2668.7 L1378 2669.3 L1381 2670 L1384 2670.6 L1387 2671.2 L1390 2671.8 L1393 2672.4 L1396 2672.9 L1399 2673.5 L1402 2674 L1405 2674.5 L1408 2675 L1411 2675.5 L1414 2676 L1417 2676.4 L1420 2676.9 L1423 2677.3 L1426 2677.8 L1429 2678.2 L1432 2678.6 L1435 2678.9 L1438 2679.3 L1441 2679.7 L1444 2680 L1447 2680.4 L1450 2680.7 L1453 2681 L1456 2681.3 L1459 2681.6 L1462 2681.9 L1465 2682.2 L1468 2682.4 L1471 2682.7 L1474 2682.9 L1477 2683.2 L1480 2683.4 L1483 2683.6 L1486 2683.8 L1489 2684 L1492 2684.2 L1495 2684.4 L1498 2684.5 L1501 2684.7 L1504 2684.8 L1507 2685 L1510 2685.1 L1513 2685.2 L1516 2685.4 L1519 2685.5 L1522 2685.6 L1525 2685.7 L1528 2685.7 L1531 2685.8 L1534 2685.9 L1537 2686 L1540 2686 L1543 2686.1 L1546 2686.1 L1549 2686.2 L1552 2686.2 L1555 2686.2 L1558 2686.3 L1561 2686.3 L1564 2686.3 L1567 2686.3 L1570 2686.3 L1573 2686.3 L1576 2686.3 L1579 2686.3 L1582 2686.3 L1585 2686.3 L1588 2686.2 L1591 2686.2 L1594 2686.2 L1597 2686.2 L1600 2686.1 L1603 2686.1 L1606 2686 L1609 2686 L1612 2686 L1615 2685.9 L1618 2685.8 L1621 2685.8 L1624 2685.7 L1627 2685.7 L1630 2685.6 L1633 2685.6 L1636 2685.5 L1639 2685.4 L1642 2685.4 L1645 2685.3 L1648 2685.2 L1651 2685.2 L1654 2685.1 L1657 2685 L1660 2685 L1663 2684.9 L1666 2684.8 L1669 2684.8 L1672 2684.7 L1675 2684.6 L1678 2684.6 L1681 2684.5 L1684 2684.5 L1687 2684.4 L1690 2684.3 L1693 2684.3 L1696 2684.2 L1699 2684.2 L1702 2684.1 L1705 2684.1 L1708 2684 L1711 2684 L1714 2684 L1717 2683.9 L1720 2683.9 L1723 2683.9 L1726 2683.8 L1729 2683.8 L1732 2683.8 L1735 2683.8 L1738 2683.8 L1741 2683.8 L1744 2683.8 L1747 2683.8 L1750 2683.8 L1753 2683.8 L1756 2683.8 L1759 2683.8 L1762 2683.9 L1765 2683.9 L1768 2684 L1771 2684 L1774 2684.1 L1777 2684.1 L1780 2684.2 L1783 2684.3 L1786 2684.3 L1789 2684.4 L1792 2684.5 L1795 2684.6 L1798 2684.7 L1801 2684.8 L1804 2685 L1807 2685.1 L1810 2685.2 L1813 2685.4 L1816 2685.6 L1819 2685.7 L1822 2685.9 L1825 2686.1 L1828 2686.3 L1831 2686.5 L1834 2686.7 L1837 2686.9" stroke="#808000" stroke-width="3.5"/>
<path d="M171 2695 L1837 2684.4" stroke="#ff0000" stroke-width="3"/>
<path d="M169 2694.9 L172 2694.3 L175 2693.7 L178 2693.1 L181 2692.5 L184 2692 L187 2691.4 L190 2690.9 L193 2690.4 L196 2689.9 L199 2689.4 L202 2688.8 L205 2688.3 L208 2687.8 L211 2687.3 L214 2686.8 L217 2686.2 L220 2685.7 L223 2685.1 L226 2684.5 L229 2683.8 L232 2683.2 L235 2682.5 L238 2681.8 L241 2681 L244 2680.2 L247 2679.4 L250 2678.5 L253 2677.6 L256 2676.6 L259 2675.6 L262 2674.5 L265 2673.3 L268 2672.1 L271 2670.9 L274 2669.5 L277 2668.1 L280 2666.6 L283 2665.1 L286 2663.5 L289 2661.7 L292 2659.9 L295 2658.1 L298 2656.1 L301 2654 L304 2651.9 L307 2649.6 L310 2647.2 L313 2644.8 L316 2642.2 L319 2639.5 L322 2636.7 L325 2633.8 L328 2630.8 L331 2627.7 L334 2624.4 L337 2621 L340 2617.5 L343 2613.8 L346 2610 L349 2606.1 L352 2602.1 L355 2597.9 L358 2593.5 L361 2589 L364 2584.4 L367 2579.5 L370 2574.6 L373 2569.5 L376 2564.2 L379 2558.7 L382 2553.1 L385 2547.3 L388 2541.4 L391 2535.2 L394 2529 L397 2522.5 L400 2516 L403 2509.3 L406 2502.5 L409 2495.5 L412 2488.5 L415 2481.4 L418 2474.2 L421 2466.9 L424 2459.6 L427 2452.2 L430 2444.7 L433 2437.2 L436 2429.7 L439 2422.2 L442 2414.6 L445 2407.1 L448 2399.5 L451 2392 L454 2384.6 L457 2377.1 L460 2369.8 L463 2362.6 L466 2355.5 L469 2348.6 L472 2341.8 L475 2335.2 L478 2328.9 L481 2322.7 L484 2316.9 L487 2311.2 L490 2305.9 L493 2300.9 L496 2296.3 L499 2292 L502 2288.1 L505 2284.5 L508 2281.3 L511 2278.5 L514 2276 L517 2273.8 L520 2272 L523 2270.5 L526 2269.3 L529 2268.5 L532 2268 L535 2267.7 L538 2267.8 L541 2268.1 L544 2268.8 L547 2269.7 L550 2270.9 L553 2272.3 L556 2274 L559 2276 L562 2278.2 L565 2280.6 L568 2283.3 L571 2286.2 L574 2289.3 L577 2292.7 L580 2296.2 L583 2299.9 L586 2303.9 L589 2308 L592 2312.3 L595 2316.8 L598 2321.4 L601 2326.2 L604 2331.2 L607 2336.3 L610 2341.6 L613 2347 L616 2352.5 L619 2358.1 L622 2363.9 L625 2369.8 L628 2375.8 L631 2381.9 L634 2388 L637 2394.3 L640 2400.6 L643 2407 L646 2413.5 L649 2420.1 L652 2426.7 L655 2433.3 L658 2440 L661 2446.7 L664 2453.4 L667 2460.1 L670 2466.7 L673 2473.4 L676 2480 L679 2486.6 L682 2493.2 L685 2499.7 L688 2506.1 L691 2512.4 L694 2518.6 L697 2524.7 L700 2530.8 L703 2536.6 L706 2542.4 L709 2548 L712 2553.5 L715 2558.7 L718 2563.9 L721 2568.8 L724 2573.6 L727 2578.3 L730 2582.8 L733 2587.2 L736 2591.4 L739 2595.5 L742 2599.4 L745 2603.2 L748 2606.9 L751 2610.4 L754 2613.8 L757 2617.1 L760 2620.3 L763 2623.4 L766 2626.3 L769 2629.2 L772 2631.9 L775 2634.5 L778 2637.1 L781 2639.5 L784 2641.9 L787 2644.1 L790 2646.3 L793 2648.4 L796 2650.4 L799 2652.3 L802 2654.1 L805 2655.9 L808 2657.6 L811 2659.3 L814 2660.8 L817 2662.4 L820 2663.8 L823 2665.2 L826 2666.6 L829 2667.9 L832 2669.1 L835 2670.3 L838 2671.4 L841 2672.5 L844 2673.5 L847 2674.5 L850 2675.4 L853 2676.3 L856 2677.1 L859 2677.8 L862 2678.6 L865 2679.2 L868 2679.8 L871 2680.4 L874 2680.9 L877 2681.4 L880 2681.9 L883 2682.3 L886 2682.6 L889 2682.9 L892 2683.2 L895 2683.4 L898 2683.6 L901 2683.7 L904 2683.8 L907 2683.9 L910 2683.9 L913 2683.9 L916 2683.9 L919 2683.8 L922 2683.7 L925 2683.5 L928 2683.3 L931 2683.1 L934 2682.9 L937 2682.6 L940 2682.3 L943 2681.9 L946 2681.6 L949 2681.2 L952 2680.7 L955 2680.3 L958 2679.8 L961 2679.3 L964 2678.8 L967 2678.2 L970 2677.6 L973 2677 L976 2676.4 L979 2675.8 L982 2675.1 L985 2674.4 L988 2673.7 L991 2673 L994 2672.2 L997 2671.5 L1000 2670.7 L1003 2669.9 L1006 2669.1 L1009 2668.2 L1012 2667.4 L1015 2666.6 L1018 2665.7 L1021 2664.8 L1024 2663.9 L1027 2663 L1030 2662.1 L1033 2661.2 L1036 2660.2 L1039 2659.3 L1042 2658.3 L1045 2657.4 L1048 2656.4 L1051 2655.4 L1054 2654.5 L1057 2653.5 L1060 2652.5 L1063 2651.5 L1066 2650.4 L1069 2649.4 L1072 2648.4 L1075 2647.4 L1078 2646.4 L1081 2645.3 L1084 2644.3 L1087 2643.3 L1090 2642.2 L1093 2641.2 L1096 2640.2 L1099 2639.1 L1102 2638.1 L1105 2637 L1108 2636 L1111 2635 L1114 2633.9 L1117 2632.9 L1120 2631.9 L1123 2630.9 L1126 2629.9 L1129 2628.8 L1132 2627.8 L1135 2626.8 L1138 2625.8 L1141 2624.8 L1144 2623.9 L1147 2622.9 L1150 2621.9 L1153 2621 L1156 2620 L1159 2619.1 L1162 2618.1 L1165 2617.2 L1168 2616.3 L1171 2615.4 L1174 2614.5 L1177 2613.6 L1180 2612.8 L1183 2611.9 L1186 2611.1 L1189 2610.3 L1192 2609.5 L1195 2608.7 L1198 2607.9 L1201 2607.1 L1204 2606.4 L1207 2605.7 L1210 2605 L1213 2604.3 L1216 2603.6 L1219 2602.9 L1222 2602.3 L1225 2601.6 L1228 2601 L1231 2600.3 L1234 2599.7 L1237 2599 L1240 2598.3 L1243 2597.6 L1246 2596.9 L1249 2596.1 L1252 2595.3 L1255 2594.5 L1258 2593.6 L1261 2592.7 L1264 2591.8 L1267 2590.8 L1270 2589.7 L1273 2588.6 L1276 2587.5 L1279 2586.2 L1282 2585 L1285 2583.6 L1288 2582.1 L1291 2580.6 L1294 2579 L1297 2577.3 L1300 2575.5 L1303 2573.6 L1306 2571.7 L1309 2569.6 L1312 2567.4 L1315 2565.1 L1318 2562.7 L1321 2560.2 L1324 2557.6 L1327 2555 L1330 2552.3 L1333 2549.5 L1336 2546.6 L1339 2543.7 L1342 2540.7 L1345 2537.7 L1348 2534.7 L1351 2531.6 L1354 2528.5 L1357 2525.4 L1360 2522.2 L1363 2519.1 L1366 2515.9 L1369 2512.8 L1372 2509.7 L1375 2506.5 L1378 2503.4 L1381 2500.3 L1384 2497.3 L1387 2494.3 L1390 2491.3 L1393 2488.4 L1396 2485.5 L1399 2482.7 L1402 2480 L1405 2477.4 L1408 2474.8 L1411 2472.3 L1414 2469.9 L1417 2467.6 L1420 2465.4 L1423 2463.3 L1426 2461.3 L1429 2459.5 L1432 2457.7 L1435 2456.1 L1438 2454.7 L1441 2453.4 L1444 2452.2 L1447 2451.2 L1450 2450.4 L1453 2449.7 L1456 2449.3 L1459 2448.9 L1462 2448.8 L1465 2448.9 L1468 2449.2 L1471 2449.7 L1474 2450.4 L1477 2451.3 L1480 2452.3 L1483 2453.6 L1486 2455.1 L1489 2456.7 L1492 2458.5 L1495 2460.5 L1498 2462.6 L1501 2464.9 L1504 2467.3 L1507 2469.8 L1510 2472.5 L1513 2475.3 L1516 2478.2 L1519 2481.2 L1522 2484.3 L1525 2487.5 L1528 2490.8 L1531 2494.1 L1534 2497.6 L1537 2501.1 L1540 2504.6 L1543 2508.3 L1546 2512 L1549 2515.7 L1552 2519.4 L1555 2523.3 L1558 2527.1 L1561 2530.9 L1564 2534.8 L1567 2538.7 L1570 2542.6 L1573 2546.5 L1576 2550.4 L1579 2554.3 L1582 2558.2 L1585 2562 L1588 2565.9 L1591 2569.6 L1594 2573.4 L1597 2577.1 L1600 2580.8 L1603 2584.4 L1606 2588 L1609 2591.5 L1612 2594.9 L1615 2598.2 L1618 2601.5 L1621 2604.7 L1624 2607.8 L1627 2610.8 L1630 2613.7 L1633 2616.6 L1636 2619.3 L1639 2622 L1642 2624.7 L1645 2627.2 L1648 2629.7 L1651 2632.1 L1654 2634.4 L1657 2636.6 L1660 2638.8 L1663 2640.9 L1666 2642.9 L1669 2644.9 L1672 2646.8 L1675 2648.7 L1678 2650.4 L1681 2652.1 L1684 2653.8 L1687 2655.4 L1690 2656.9 L1693 2658.4 L1696 2659.8 L1699 2661.1 L1702 2662.4 L1705 2663.7 L1708 2664.9 L1711 2666 L1714 2667.1 L1717 2668.1 L1720 2669.1 L1723 2670 L1726 2670.9 L1729 2671.8 L1732 2672.5 L1735 2673.3 L1738 2674 L1741 2674.7 L1744 2675.3 L1747 2675.9 L1750 2676.4 L1753 2676.9 L1756 2677.4 L1759 2677.8 L1762 2678.2 L1765 2678.6 L1768 2678.9 L1771 2679.2 L1774 2679.5 L1777 2679.8 L1780 2680 L1783 2680.1 L1786 2680.3 L1789 2680.4 L1792 2680.6 L1795 2680.6 L1798 2680.7 L1801 2680.8 L1804 2680.8 L1807 2680.8 L1810 2680.8 L1813 2680.7 L1816 2680.7 L1819 2680.6 L1822 2680.6 L1825 2680.5 L1828 2680.4 L1831 2680.3 L1834 2680.2 L1837 2680" stroke="#00ff00" stroke-width="3.8"/>
</g>
</g>
<rect x="1250.2" y="1589.3" width="495" height="82.4" fill="#fff" stroke="#c0c0c0" stroke-width="1.6"/>
<text x="1262" y="1655" font-size="64" textLength="473.7" lengthAdjust="spacing">20K LNO Spent</text>
<rect x="1275.6" y="2203.5" width="453.6" height="80.4" fill="#fff" stroke="#c0c0c0" stroke-width="1.6"/>
<text x="1285.5" y="2266.6" font-size="64" textLength="437.8" lengthAdjust="spacing">0K LNO Spent</text>
<rect x="1375.5" y="1816.2" width="118" height="80.4" fill="#fff" stroke="#c0c0c0" stroke-width="1.6"/>
<text x="1385.5" y="1879" font-size="58" textLength="101" lengthAdjust="spacing">C-C</text>
<rect x="1079.4" y="1971.4" width="121.1" height="79.2" fill="#fff" stroke="#c0c0c0" stroke-width="1.6"/>
<text x="1089" y="2034.3" font-size="58" textLength="106" lengthAdjust="spacing">C-O</text>
<rect x="1397.4" y="2361.5" width="119" height="77.5" fill="#fff" stroke="#c0c0c0" stroke-width="1.6"/>
<text x="1407.3" y="2421.8" font-size="58" textLength="100.5" lengthAdjust="spacing">C-C</text>
<rect x="1095.7" y="2505.2" width="121.3" height="78.2" fill="#fff" stroke="#c0c0c0" stroke-width="1.6"/>
<text x="1105.2" y="2566.3" font-size="58" textLength="106.8" lengthAdjust="spacing">C-O</text>
<rect x="473" y="2151.1" width="151.8" height="93.4" fill="#fff" stroke="#c0c0c0" stroke-width="1.6"/>
<text x="590" y="1615.3" font-size="58">CO</text>
<text x="677" y="1632.3" font-size="33">3</text>
<text x="697.5" y="1586.5" font-size="33">2-</text>
<text x="481.5" y="2214.9" font-size="58">CO</text>
<text x="570" y="2233.8" font-size="33">3</text>
<text x="589" y="2186.8" font-size="33">2-</text>
<text x="669.6" y="2666.5" font-size="62" font-weight="bold">*</text>
<text x="42.5" y="1608.6" font-size="64" font-weight="bold">(b)</text>
<text transform="translate(87.6 2354.4) rotate(-90)" font-size="64" textLength="408.4" lengthAdjust="spacing">Intensity / a.u.</text>
<text x="721.4" y="2950.4" font-size="64" textLength="559.4" lengthAdjust="spacing">Binding Energy / eV</text>
<rect x="529" y="3020" width="382" height="1205" fill="#ffff00"/>
<path d="M528 3020 V4225 M912 3020 V4225" stroke="#c0c0c0" stroke-width="2"/>
<rect x="168" y="3017.7" width="1663.6" height="1209.5" fill="none" stroke="#000" stroke-width="5.5"/>
<path d="M168 4227.2 V4251.2 M251.2 4227.2 V4240.2 M334.4 4227.2 V4251.2 M417.5 4227.2 V4240.2 M500.7 4227.2 V4251.2 M583.9 4227.2 V4240.2 M667.1 4227.2 V4251.2 M750.3 4227.2 V4240.2 M833.4 4227.2 V4251.2 M916.6 4227.2 V4240.2 M999.8 4227.2 V4251.2 M1083 4227.2 V4240.2 M1166.2 4227.2 V4251.2 M1249.3 4227.2 V4240.2 M1332.5 4227.2 V4251.2 M1415.7 4227.2 V4240.2 M1498.9 4227.2 V4251.2 M1582.1 4227.2 V4240.2 M1665.2 4227.2 V4251.2 M1748.4 4227.2 V4240.2 M1831.6 4227.2 V4251.2" stroke="#000" stroke-width="4.5" fill="none"/>
<text x="166.5" y="4312" font-size="64" text-anchor="middle">8</text>
<text x="332.9" y="4312" font-size="64" text-anchor="middle">7</text>
<text x="499.2" y="4312" font-size="64" text-anchor="middle">6</text>
<text x="665.6" y="4312" font-size="64" text-anchor="middle">5</text>
<text x="831.9" y="4312" font-size="64" text-anchor="middle">4</text>
<text x="998.3" y="4312" font-size="64" text-anchor="middle">3</text>
<text x="1164.7" y="4312" font-size="64" text-anchor="middle">2</text>
<text x="1331" y="4312" font-size="64" text-anchor="middle">1</text>
<text x="1497.4" y="4312" font-size="64" text-anchor="middle">0</text>
<text x="1663.7" y="4312" font-size="64" text-anchor="middle">-1</text>
<text x="1830.1" y="4312" font-size="64" text-anchor="middle">-2</text>
<g fill="none" stroke="#000" stroke-width="4" stroke-linejoin="round">
<path d="M168 3480.5 C169.8 3480.2 179.4 3478.3 183.3 3477.5 C187.2 3476.7 196.3 3474.2 201.7 3473.8 C207.1 3473.4 222.4 3475.3 229.2 3473.8 C236 3472.3 253.2 3463.3 260.3 3461 C267.4 3458.7 282.4 3456.5 289.7 3454.4 C297 3452.3 317.1 3444.7 322.7 3442.6 C328.3 3440.5 333 3438.6 337.3 3436 C341.6 3433.4 353.7 3423.8 359.3 3420.6 C364.9 3417.4 380.5 3410.7 385 3408.9 C389.5 3407.1 393.9 3407.7 397.8 3405.2 C401.7 3402.7 412.7 3392.4 418 3387.6 C423.3 3382.8 439.4 3368.2 443.6 3363.8 C447.8 3359.4 451.4 3353.2 454.3 3350.2 C457.2 3347.2 465.6 3340.1 468.6 3338.3 C471.6 3336.5 476.7 3336.7 480.3 3334.5 C483.9 3332.3 496.2 3322.1 499.6 3319.2 C503 3316.3 505.5 3313.9 509.1 3309.7 C512.7 3305.5 526.7 3287.4 530.6 3283.5 C534.5 3279.6 538.3 3279 542.5 3276.3 C546.7 3273.6 559.4 3266.4 566.3 3260.6 C573.2 3254.8 594.5 3231.5 602 3226.3 C609.5 3221.1 625.1 3219.4 630.7 3215.8 C636.3 3212.2 645.4 3199.8 649.7 3195.3 C654 3190.8 662.2 3180.4 667.8 3177.6 C673.4 3174.8 690.1 3171.2 697.4 3171.4 C704.7 3171.6 724.6 3177.2 730.7 3179.6 C736.8 3182 745.3 3188.7 749.8 3191.9 C754.3 3195.1 762.8 3205 768.9 3207.2 C775 3209.4 794.4 3208.7 802.2 3211 C810 3213.3 828.1 3222.8 835.6 3227.2 C843.1 3231.6 858 3246.5 866.6 3249.1 C875.2 3251.7 902 3249.7 909.5 3249.1 C917 3248.5 924.5 3244.4 930.9 3243.8 C937.3 3243.2 955.8 3242.3 964.2 3243.8 C972.6 3245.3 991.5 3254.3 1002.7 3256.7 C1013.9 3259.1 1046.2 3261.6 1060.4 3264.4 C1074.6 3267.2 1113 3278.5 1124.6 3280.4 C1136.2 3282.3 1150.8 3281.9 1159.8 3280.4 C1168.8 3278.9 1193 3269.7 1201.6 3267.6 C1210.2 3265.5 1225.4 3265.8 1233.6 3262.4 C1241.8 3259 1262.4 3244.5 1272.1 3238.7 C1281.8 3232.9 1306.1 3220 1317 3213 C1327.9 3206 1355.8 3182.4 1365.2 3179 C1374.6 3175.6 1389.7 3184 1397.2 3184.2 C1404.7 3184.4 1421.4 3183.6 1429.3 3181 C1437.2 3178.4 1456.7 3163.3 1464.6 3161.7 C1472.5 3160.1 1490.8 3165.1 1496.7 3167 C1502.7 3168.9 1511.4 3175.4 1515.6 3178 C1519.8 3180.6 1529.1 3184.3 1532.7 3189 C1536.3 3193.7 1543.2 3211.9 1546.7 3218.6 C1550.2 3225.3 1559.4 3240.1 1562.3 3246.6 C1565.2 3253.1 1569.2 3266.7 1571.7 3274.7 C1574.2 3282.7 1581.2 3305.8 1584.1 3315.2 C1587 3324.6 1593.9 3346.2 1596.6 3355.7 C1599.3 3365.1 1605 3386.4 1607.5 3396.2 C1610 3406 1616 3430.4 1618.4 3439.8 C1620.8 3449.2 1625.3 3467.4 1627.8 3477.2 C1630.3 3487 1637.9 3515.5 1640.2 3524 C1642.5 3532.5 1645.8 3544.4 1647.3 3550 C1648.8 3555.6 1651.3 3566.4 1652.8 3572 C1654.3 3577.6 1659 3593.8 1660.5 3598.4 C1662 3603 1664.3 3608.8 1666 3611.6 C1667.7 3614.4 1672.2 3619.5 1674.8 3622.6 C1677.4 3625.7 1685.2 3634.4 1688 3638 C1690.8 3641.6 1695.9 3651.1 1699 3653.4 C1702.1 3655.7 1711.1 3656.6 1714.4 3657.8 C1717.7 3659 1724.3 3662.5 1727.6 3663.3 C1730.9 3664.1 1736.6 3664.5 1743 3664.8 C1749.4 3665.1 1777.5 3665.1 1782.6 3665.5 C1787.7 3665.9 1781.4 3668 1787 3668.3 C1792.6 3668.6 1825.9 3668.3 1831 3668.3"/>
<path d="M168 4020 C170.9 4019 186.4 4013.7 192.5 4011.4 C198.6 4009.1 213.6 4002.8 220 4000.4 C226.4 3998 242.1 3992.5 247.5 3990.7 C252.9 3988.9 260.9 3988.7 266.7 3985.2 C272.5 3981.7 289.6 3967.2 297 3960.5 C304.4 3953.8 324 3933 330 3927.5 C336 3922 344.4 3916.5 348.3 3913.6 C352.2 3910.7 357.9 3907.7 363 3902.6 C368.1 3897.5 385 3877.9 392.3 3869.6 C399.6 3861.3 418.5 3839 425.3 3831.1 C432.1 3823.2 444.6 3808.6 451 3801.8 C457.4 3795 473 3779.8 480.3 3772.5 C487.6 3765.2 507.4 3745.7 513.3 3739.5 C519.2 3733.3 523.2 3727.4 531 3719.3 C538.8 3711.2 570.9 3679.4 580.5 3669.8 C590.1 3660.2 607.4 3643.2 613.5 3636.8 C619.6 3630.4 626.7 3619.9 632.8 3614.8 C638.9 3609.7 659.7 3595.1 665.8 3592.8 C671.9 3590.5 679.9 3594.9 685 3595.5 C690.1 3596.1 704 3598 709.8 3598.3 C715.6 3598.6 727.8 3595.1 734.5 3598.3 C741.2 3601.5 760.1 3620.5 767.5 3625.8 C774.9 3631.1 791.4 3639.4 797.8 3643.9 C804.2 3648.4 814.2 3656.8 822.5 3664.3 C830.8 3671.8 860 3700.4 869.3 3708.3 C878.6 3716.2 894.9 3728.4 902.3 3731.9 C909.7 3735.4 926.9 3735.8 932.5 3738.5 C938.1 3741.2 945.4 3750.5 950 3755 C954.6 3759.5 966.2 3769.6 972 3777 C977.8 3784.4 993.1 3810.9 999.5 3818.3 C1005.9 3825.7 1019.3 3835 1027 3840.3 C1034.7 3845.6 1056.8 3861.1 1065.5 3863.9 C1074.2 3866.7 1093.6 3865.6 1101.3 3863.9 C1109 3862.2 1124.1 3852.5 1131.5 3849.6 C1138.9 3846.7 1156.8 3840.7 1164.5 3839.2 C1172.2 3837.7 1189.8 3837.6 1197.5 3836.4 C1205.2 3835.2 1222.8 3831.4 1230.5 3829.3 C1238.2 3827.2 1255.8 3820.4 1263.5 3818.3 C1271.2 3816.2 1288.5 3812.2 1296.5 3811.7 C1304.5 3811.2 1324.3 3812.2 1332.3 3814.4 C1340.3 3816.6 1357.6 3829.8 1365.3 3830.4 C1373 3831 1392.6 3819.9 1398.3 3819.4 C1404 3818.9 1410.1 3823.8 1414.1 3826.2 C1418.1 3828.6 1428.5 3834.9 1432.3 3840.3 C1436.1 3845.7 1442.9 3865.1 1446.4 3872.6 C1449.9 3880.1 1459.4 3897.4 1462.5 3904.9 C1465.6 3912.4 1470.2 3929.1 1472.6 3937.1 C1475 3945.1 1480.3 3965.4 1482.7 3973.4 C1485.1 3981.4 1490.5 3998.2 1492.8 4005.7 C1495.1 4013.2 1500.5 4030.9 1502.8 4038 C1505.1 4045.1 1509.8 4057.5 1512.9 4066.2 C1516 4074.9 1525.3 4104.6 1529.1 4112.6 C1532.9 4120.6 1541.2 4129.3 1545.2 4134.7 C1549.2 4140.1 1559.1 4155.4 1563.3 4158.9 C1567.5 4162.4 1577.5 4163.6 1581.5 4165 C1585.5 4166.4 1593.4 4169.9 1597.6 4171 C1601.8 4172.1 1611 4173.9 1617.8 4174.3 C1624.6 4174.7 1651.4 4174 1656.1 4174.3 C1660.8 4174.6 1637.7 4176.8 1658.1 4177.1 C1678.5 4177.4 1810.8 4177.1 1831 4177.1"/>
</g>
<text x="640.5" y="3110.9" font-size="76" style="stroke:#ff0">CO</text>
<text x="1268.5" y="3111" font-size="64" textLength="443.3" lengthAdjust="spacing">20K LNO Spent</text>
<text x="1313" y="3759.7" font-size="64" textLength="407.2" lengthAdjust="spacing">0K LNO Spent</text>
<text x="57" y="3073.5" font-size="64" font-weight="bold">(c)</text>
<text transform="translate(101.9 3799) rotate(-90)" font-size="64" textLength="387.7" lengthAdjust="spacing">Intensity / a.u.</text>
<text x="717" y="4416.2" font-size="64" textLength="559.4" lengthAdjust="spacing">Binding Energy / eV</text>
</svg>
</body></html>
